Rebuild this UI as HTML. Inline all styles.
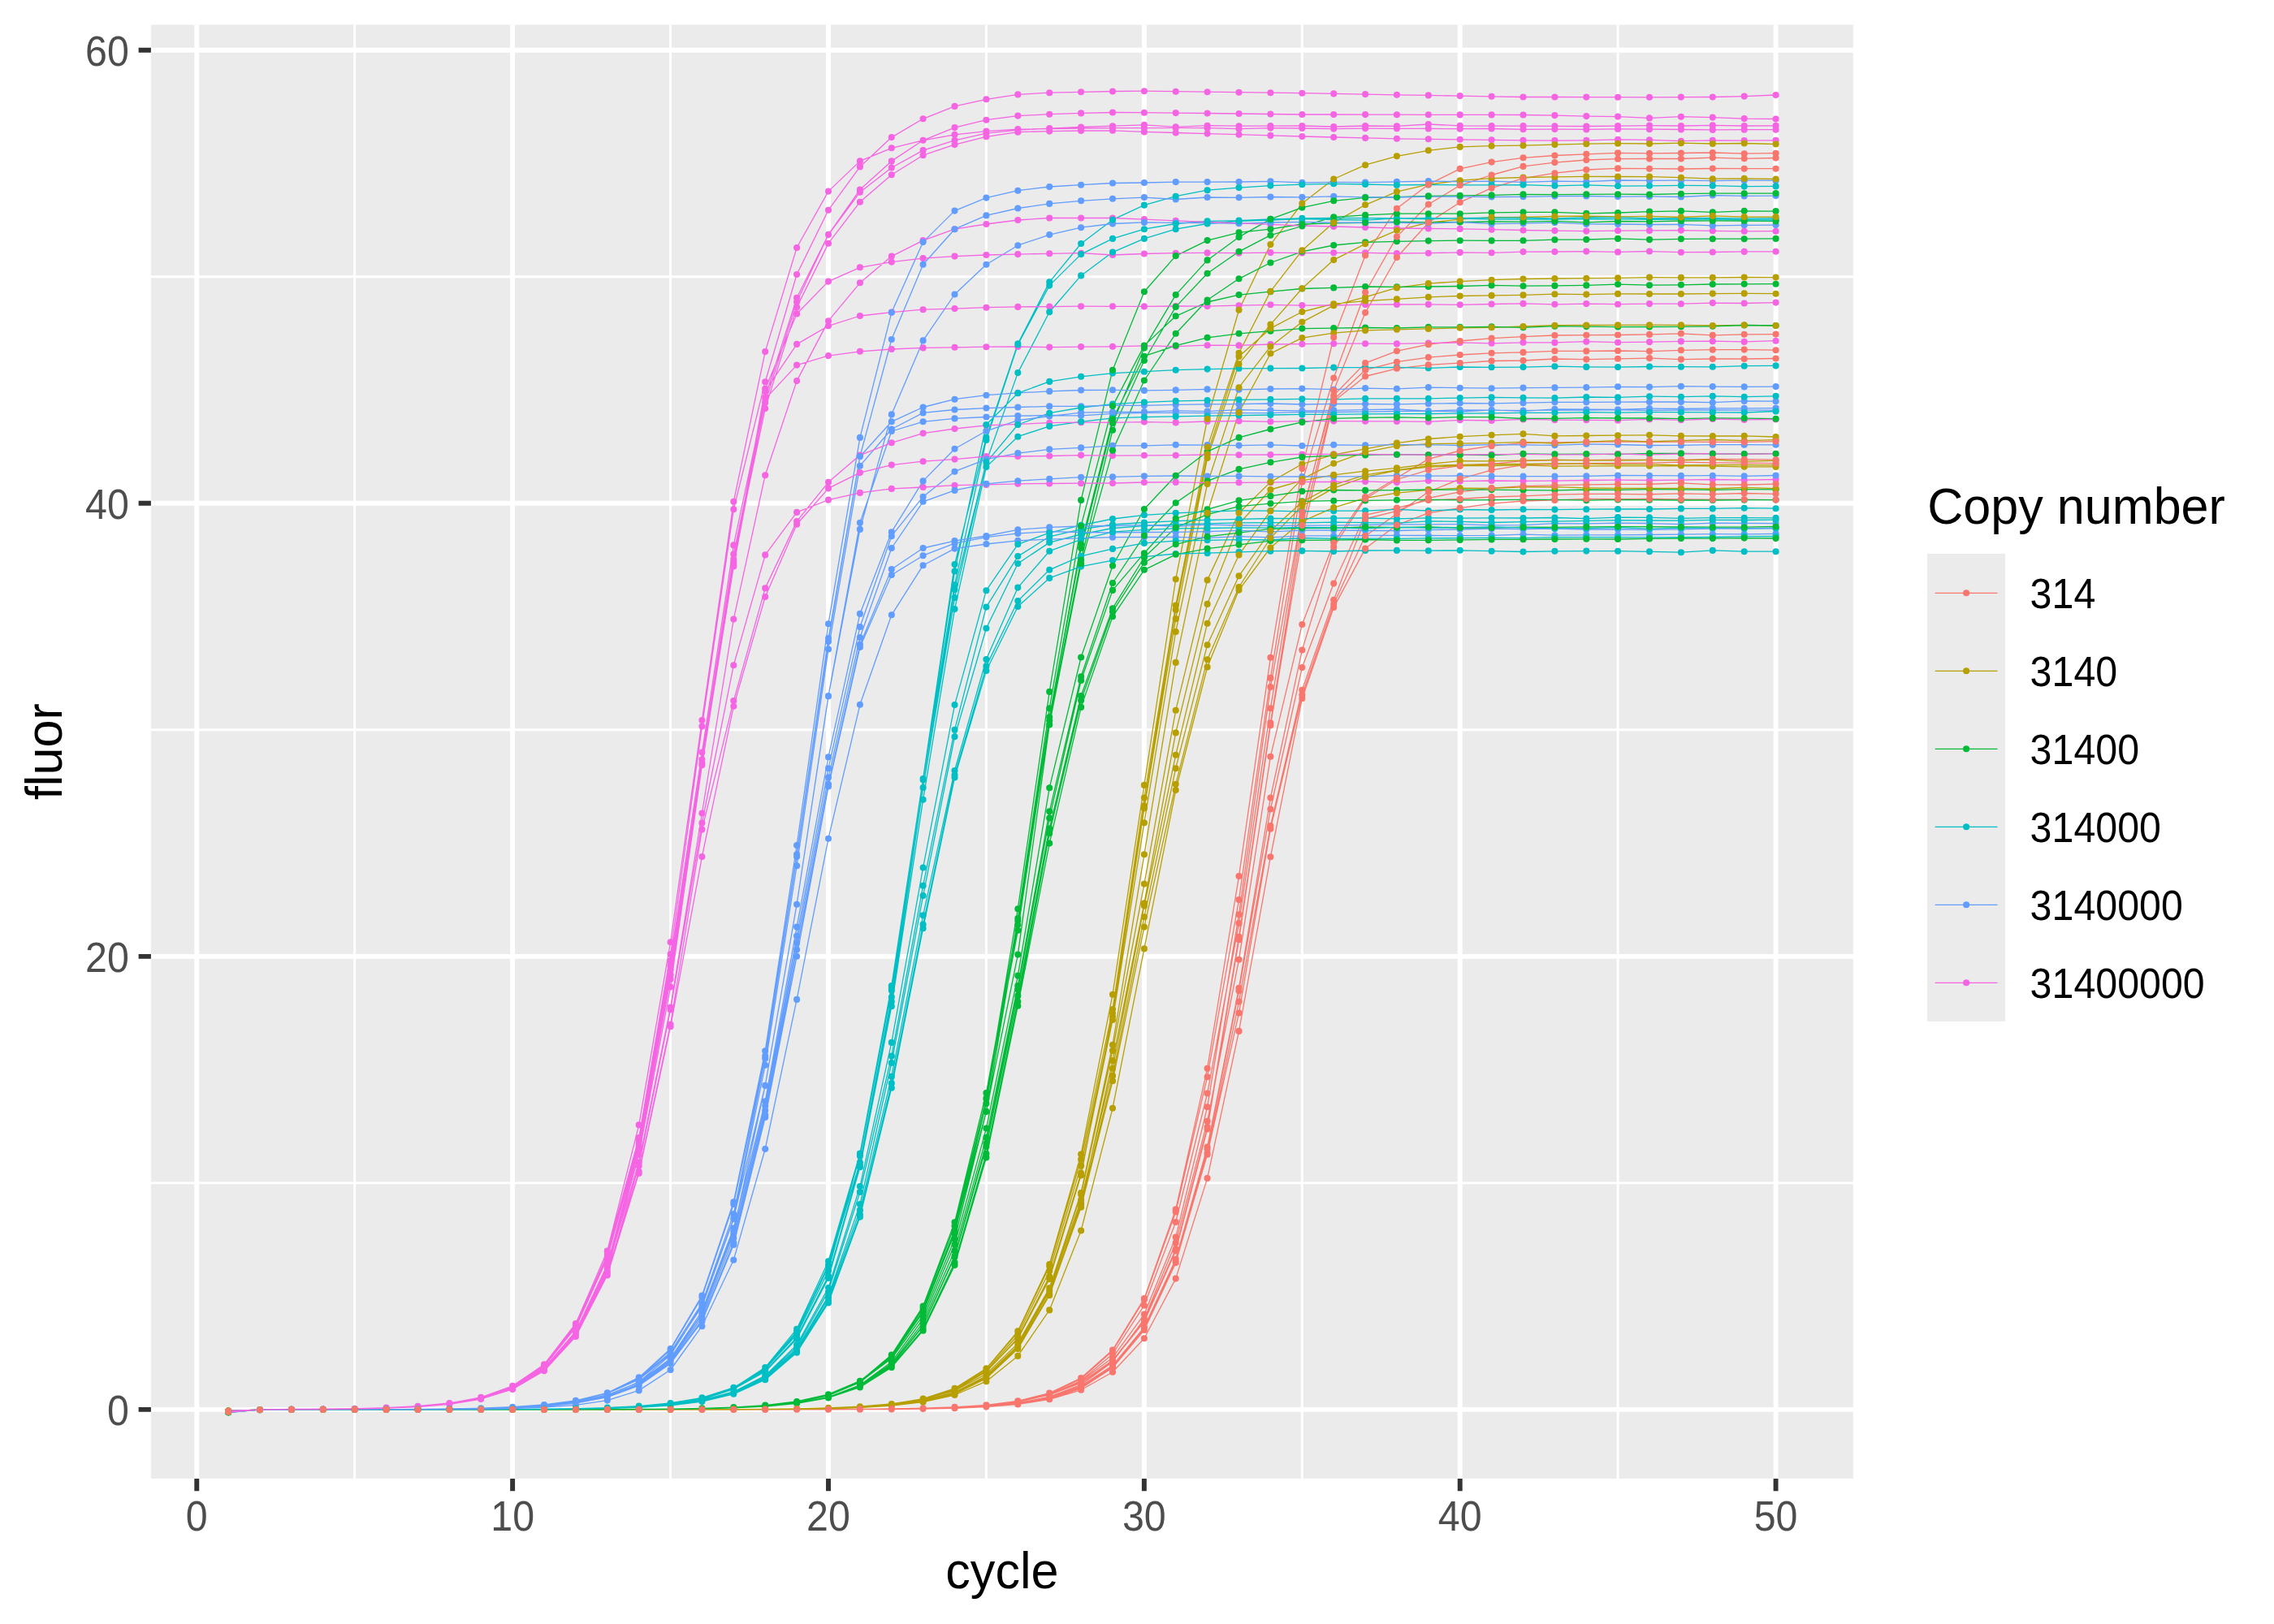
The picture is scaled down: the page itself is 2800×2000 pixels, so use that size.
<!DOCTYPE html><html><head><meta charset="utf-8"><title>qPCR</title><style>html,body{margin:0;padding:0;background:#fff}svg{display:block}text{font-family:"Liberation Sans",sans-serif}</style></head><body>
<svg width="2800" height="2000" viewBox="0 0 2800 2000">
<rect width="2800" height="2000" fill="#fff"/>
<rect x="185.9" y="30.5" width="2095.95" height="1790.40" fill="#EBEBEB"/>
<path d="M436.70 30.5V1820.9M825.56 30.5V1820.9M1214.42 30.5V1820.9M1603.28 30.5V1820.9M1992.14 30.5V1820.9M185.9 1456.87H2281.85M185.9 898.81H2281.85M185.9 340.75H2281.85" stroke="#fff" stroke-width="2.96" fill="none"/>
<path d="M242.27 30.5V1820.9M631.13 30.5V1820.9M1019.99 30.5V1820.9M1408.85 30.5V1820.9M1797.71 30.5V1820.9M2186.57 30.5V1820.9M185.9 1735.90H2281.85M185.9 1177.84H2281.85M185.9 619.78H2281.85M185.9 61.72H2281.85" stroke="#fff" stroke-width="5.93" fill="none"/>
<clipPath id="cp"><rect x="185.9" y="30.5" width="2095.95" height="1790.40"/></clipPath>
<g clip-path="url(#cp)">
<path d="M281.2 1737.8L320.0 1736.2L358.9 1735.9L397.8 1735.9L436.7 1735.9L475.6 1735.9L514.5 1735.9L553.4 1735.9L592.2 1735.9L631.1 1735.9L670.0 1735.9L708.9 1735.9L747.8 1735.9L786.7 1735.9L825.6 1735.9L864.4 1735.9L903.3 1735.9L942.2 1735.8L981.1 1735.8L1020.0 1735.7L1058.9 1735.5L1097.8 1735.1L1136.6 1734.4L1175.5 1733.1L1214.4 1730.4L1253.3 1725.4L1292.2 1715.6L1331.1 1697.1L1370.0 1662.5L1408.9 1599.1L1447.7 1489.4L1486.6 1315.8L1525.5 1079.1L1564.4 809.8L1603.3 577.1L1642.2 415.5L1681.1 314.5L1719.9 256.8L1758.8 227.2L1797.7 207.9L1836.6 199.6L1875.5 194.3L1914.4 191.5L1953.3 189.8L1992.1 188.4L2031.0 188.9L2069.9 188.5L2108.8 188.0L2147.7 189.2L2186.6 188.7M281.2 1738.0L320.0 1736.2L358.9 1735.9L397.8 1735.9L436.7 1735.9L475.6 1735.9L514.5 1735.9L553.4 1735.9L592.2 1735.9L631.1 1735.9L670.0 1735.9L708.9 1735.9L747.8 1735.9L786.7 1735.9L825.6 1735.9L864.4 1735.9L903.3 1735.9L942.2 1735.8L981.1 1735.8L1020.0 1735.7L1058.9 1735.6L1097.8 1735.2L1136.6 1734.6L1175.5 1733.3L1214.4 1730.8L1253.3 1726.0L1292.2 1716.5L1331.1 1698.2L1370.0 1663.6L1408.9 1600.5L1447.7 1492.5L1486.6 1326.2L1525.5 1108.1L1564.4 834.9L1603.3 593.6L1642.2 465.5L1681.1 360.0L1719.9 291.6L1758.8 251.7L1797.7 228.3L1836.6 215.5L1875.5 204.9L1914.4 200.1L1953.3 197.0L1992.1 195.7L2031.0 195.5L2069.9 195.5L2108.8 194.1L2147.7 195.3L2186.6 194.5M281.2 1738.6L320.0 1736.2L358.9 1735.9L397.8 1735.9L436.7 1735.9L475.6 1735.9L514.5 1735.9L553.4 1735.9L592.2 1735.9L631.1 1735.9L670.0 1735.9L708.9 1735.9L747.8 1735.9L786.7 1735.9L825.6 1735.9L864.4 1735.9L903.3 1735.9L942.2 1735.9L981.1 1735.8L1020.0 1735.7L1058.9 1735.6L1097.8 1735.3L1136.6 1734.7L1175.5 1733.5L1214.4 1731.2L1253.3 1726.6L1292.2 1717.6L1331.1 1700.3L1370.0 1667.5L1408.9 1607.7L1447.7 1505.0L1486.6 1346.5L1525.5 1137.1L1564.4 872.3L1603.3 635.4L1642.2 480.8L1681.1 385.1L1719.9 317.0L1758.8 274.3L1797.7 249.2L1836.6 231.6L1875.5 219.7L1914.4 213.2L1953.3 209.0L1992.1 207.4L2031.0 207.7L2069.9 208.0L2108.8 207.5L2147.7 207.7L2186.6 207.7M281.2 1737.8L320.0 1736.2L358.9 1735.9L397.8 1735.9L436.7 1735.9L475.6 1735.9L514.5 1735.9L553.4 1735.9L592.2 1735.9L631.1 1735.9L670.0 1735.9L708.9 1735.9L747.8 1735.9L786.7 1735.9L825.6 1735.9L864.4 1735.9L903.3 1735.9L942.2 1735.8L981.1 1735.8L1020.0 1735.6L1058.9 1735.4L1097.8 1735.0L1136.6 1734.3L1175.5 1732.9L1214.4 1730.3L1253.3 1725.7L1292.2 1717.0L1331.1 1701.1L1370.0 1671.9L1408.9 1618.6L1447.7 1523.6L1486.6 1363.3L1525.5 1126.2L1564.4 846.1L1603.3 630.9L1642.2 487.0L1681.1 447.1L1719.9 432.3L1758.8 424.2L1797.7 420.0L1836.6 416.6L1875.5 414.7L1914.4 413.0L1953.3 412.7L1992.1 412.5L2031.0 411.9L2069.9 410.8L2108.8 412.9L2147.7 411.8L2186.6 411.6M281.2 1738.4L320.0 1736.2L358.9 1735.9L397.8 1735.9L436.7 1735.9L475.6 1735.9L514.5 1735.9L553.4 1735.9L592.2 1735.9L631.1 1735.9L670.0 1735.9L708.9 1735.9L747.8 1735.9L786.7 1735.9L825.6 1735.9L864.4 1735.9L903.3 1735.8L942.2 1735.8L981.1 1735.7L1020.0 1735.6L1058.9 1735.4L1097.8 1735.0L1136.6 1734.2L1175.5 1732.9L1214.4 1730.3L1253.3 1725.8L1292.2 1717.5L1331.1 1702.6L1370.0 1675.3L1408.9 1626.1L1447.7 1538.4L1486.6 1387.7L1525.5 1153.8L1564.4 890.4L1603.3 647.1L1642.2 492.0L1681.1 455.7L1719.9 445.7L1758.8 440.1L1797.7 437.0L1836.6 434.8L1875.5 433.9L1914.4 432.3L1953.3 432.4L1992.1 432.0L2031.0 432.6L2069.9 431.3L2108.8 430.7L2147.7 430.6L2186.6 431.2M281.2 1738.3L320.0 1736.2L358.9 1735.9L397.8 1735.9L436.7 1735.9L475.6 1735.9L514.5 1735.9L553.4 1735.9L592.2 1735.9L631.1 1735.9L670.0 1735.9L708.9 1735.9L747.8 1735.9L786.7 1735.9L825.6 1735.9L864.4 1735.9L903.3 1735.8L942.2 1735.8L981.1 1735.8L1020.0 1735.6L1058.9 1735.4L1097.8 1735.0L1136.6 1734.3L1175.5 1732.9L1214.4 1730.5L1253.3 1726.0L1292.2 1717.9L1331.1 1703.1L1370.0 1676.2L1408.9 1627.5L1447.7 1540.4L1486.6 1390.4L1525.5 1157.2L1564.4 893.2L1603.3 660.5L1642.2 494.2L1681.1 463.5L1719.9 453.8L1758.8 449.3L1797.7 447.1L1836.6 444.5L1875.5 444.0L1914.4 442.0L1953.3 442.6L1992.1 441.8L2031.0 441.1L2069.9 442.6L2108.8 442.0L2147.7 442.0L2186.6 441.5M281.2 1738.1L320.0 1736.2L358.9 1735.9L397.8 1735.9L436.7 1735.9L475.6 1735.9L514.5 1735.9L553.4 1735.9L592.2 1735.9L631.1 1735.9L670.0 1735.9L708.9 1735.9L747.8 1735.9L786.7 1735.9L825.6 1735.9L864.4 1735.9L903.3 1735.9L942.2 1735.9L981.1 1735.8L1020.0 1735.8L1058.9 1735.6L1097.8 1735.3L1136.6 1734.8L1175.5 1733.8L1214.4 1731.8L1253.3 1727.9L1292.2 1720.2L1331.1 1705.4L1370.0 1677.1L1408.9 1624.3L1447.7 1530.6L1486.6 1380.9L1525.5 1181.7L1564.4 931.7L1603.3 769.1L1642.2 668.6L1681.1 612.0L1719.9 588.5L1758.8 565.4L1797.7 555.0L1836.6 549.2L1875.5 545.6L1914.4 545.0L1953.3 544.4L1992.1 543.9L2031.0 544.4L2069.9 544.2L2108.8 544.4L2147.7 544.4L2186.6 543.6M281.2 1738.0L320.0 1736.2L358.9 1735.9L397.8 1735.9L436.7 1735.9L475.6 1735.9L514.5 1735.9L553.4 1735.9L592.2 1735.9L631.1 1735.9L670.0 1735.9L708.9 1735.9L747.8 1735.9L786.7 1735.9L825.6 1735.9L864.4 1735.9L903.3 1735.9L942.2 1735.8L981.1 1735.8L1020.0 1735.7L1058.9 1735.6L1097.8 1735.3L1136.6 1734.7L1175.5 1733.7L1214.4 1731.7L1253.3 1727.9L1292.2 1720.7L1331.1 1707.1L1370.0 1681.6L1408.9 1634.6L1447.7 1550.8L1486.6 1412.6L1525.5 1216.9L1564.4 982.5L1603.3 800.6L1642.2 673.6L1681.1 614.2L1719.9 590.5L1758.8 578.8L1797.7 573.7L1836.6 571.5L1875.5 567.6L1914.4 566.5L1953.3 566.7L1992.1 566.2L2031.0 566.3L2069.9 566.4L2108.8 565.4L2147.7 565.7L2186.6 566.2M281.2 1737.7L320.0 1736.2L358.9 1735.9L397.8 1735.9L436.7 1735.9L475.6 1735.9L514.5 1735.9L553.4 1735.9L592.2 1735.9L631.1 1735.9L670.0 1735.9L708.9 1735.9L747.8 1735.9L786.7 1735.9L825.6 1735.9L864.4 1735.9L903.3 1735.9L942.2 1735.9L981.1 1735.8L1020.0 1735.8L1058.9 1735.7L1097.8 1735.5L1136.6 1735.1L1175.5 1734.3L1214.4 1732.6L1253.3 1729.3L1292.2 1722.8L1331.1 1709.8L1370.0 1684.5L1408.9 1637.0L1447.7 1553.4L1486.6 1421.7L1525.5 1247.6L1564.4 1020.7L1603.3 855.8L1642.2 743.9L1681.1 660.0L1719.9 632.9L1758.8 605.8L1797.7 589.9L1836.6 578.8L1875.5 572.6L1914.4 571.5L1953.3 570.7L1992.1 570.3L2031.0 570.1L2069.9 569.2L2108.8 569.9L2147.7 570.1L2186.6 570.7M281.2 1737.9L320.0 1736.2L358.9 1735.9L397.8 1735.9L436.7 1735.9L475.6 1735.9L514.5 1735.9L553.4 1735.9L592.2 1735.9L631.1 1735.9L670.0 1735.9L708.9 1735.9L747.8 1735.9L786.7 1735.9L825.6 1735.9L864.4 1735.9L903.3 1735.9L942.2 1735.9L981.1 1735.8L1020.0 1735.8L1058.9 1735.6L1097.8 1735.4L1136.6 1735.0L1175.5 1734.1L1214.4 1732.3L1253.3 1728.9L1292.2 1722.2L1331.1 1709.3L1370.0 1684.4L1408.9 1638.0L1447.7 1555.1L1486.6 1420.3L1525.5 1233.6L1564.4 1017.1L1603.3 849.7L1642.2 738.9L1681.1 639.0L1719.9 629.3L1758.8 613.4L1797.7 605.8L1836.6 601.1L1875.5 598.6L1914.4 597.7L1953.3 596.9L1992.1 596.3L2031.0 596.3L2069.9 594.9L2108.8 596.8L2147.7 597.0L2186.6 596.1M281.2 1738.2L320.0 1736.2L358.9 1735.9L397.8 1735.9L436.7 1735.9L475.6 1735.9L514.5 1735.9L553.4 1735.9L592.2 1735.9L631.1 1735.9L670.0 1735.9L708.9 1735.9L747.8 1735.9L786.7 1735.9L825.6 1735.9L864.4 1735.9L903.3 1735.9L942.2 1735.9L981.1 1735.8L1020.0 1735.8L1058.9 1735.6L1097.8 1735.3L1136.6 1734.8L1175.5 1733.8L1214.4 1732.0L1253.3 1728.3L1292.2 1721.4L1331.1 1708.2L1370.0 1683.2L1408.9 1636.7L1447.7 1553.2L1486.6 1415.1L1525.5 1220.3L1564.4 996.5L1603.3 822.1L1642.2 718.6L1681.1 634.3L1719.9 625.6L1758.8 615.9L1797.7 614.5L1836.6 612.0L1875.5 610.9L1914.4 609.2L1953.3 608.3L1992.1 608.3L2031.0 608.8L2069.9 607.8L2108.8 608.6L2147.7 607.5L2186.6 608.3M281.2 1738.2L320.0 1736.2L358.9 1735.9L397.8 1735.9L436.7 1735.9L475.6 1735.9L514.5 1735.9L553.4 1735.9L592.2 1735.9L631.1 1735.9L670.0 1735.9L708.9 1735.9L747.8 1735.9L786.7 1735.9L825.6 1735.9L864.4 1735.9L903.3 1735.9L942.2 1735.9L981.1 1735.8L1020.0 1735.8L1058.9 1735.6L1097.8 1735.4L1136.6 1735.0L1175.5 1734.1L1214.4 1732.5L1253.3 1729.4L1292.2 1723.3L1331.1 1711.8L1370.0 1689.7L1408.9 1648.3L1447.7 1574.6L1486.6 1451.1L1525.5 1269.9L1564.4 1055.3L1603.3 860.3L1642.2 748.1L1681.1 675.6L1719.9 646.6L1758.8 631.8L1797.7 625.6L1836.6 620.1L1875.5 617.0L1914.4 615.9L1953.3 614.5L1992.1 614.6L2031.0 614.5L2069.9 615.0L2108.8 615.2L2147.7 615.1L2186.6 615.6" stroke="#F8766D" stroke-width="1.3" fill="none" stroke-linejoin="round"/>
<path d="M281.2 1739.0L320.0 1736.2L358.9 1735.9L397.8 1735.9L436.7 1735.9L475.6 1735.9L514.5 1735.9L553.4 1735.9L592.2 1735.9L631.1 1735.9L670.0 1735.9L708.9 1735.9L747.8 1735.9L786.7 1735.9L825.6 1735.8L864.4 1735.8L903.3 1735.7L942.2 1735.5L981.1 1735.0L1020.0 1734.2L1058.9 1732.5L1097.8 1729.1L1136.6 1722.6L1175.5 1709.8L1214.4 1685.3L1253.3 1639.3L1292.2 1557.1L1331.1 1421.5L1370.0 1224.7L1408.9 966.9L1447.7 713.3L1486.6 516.0L1525.5 381.8L1564.4 301.1L1603.3 250.6L1642.2 220.5L1681.1 203.2L1719.9 192.3L1758.8 185.3L1797.7 180.9L1836.6 179.7L1875.5 179.2L1914.4 178.1L1953.3 177.2L1992.1 176.7L2031.0 177.0L2069.9 176.2L2108.8 177.0L2147.7 176.5L2186.6 177.5M281.2 1738.7L320.0 1736.2L358.9 1735.9L397.8 1735.9L436.7 1735.9L475.6 1735.9L514.5 1735.9L553.4 1735.9L592.2 1735.9L631.1 1735.9L670.0 1735.9L708.9 1735.9L747.8 1735.9L786.7 1735.9L825.6 1735.8L864.4 1735.8L903.3 1735.7L942.2 1735.5L981.1 1735.1L1020.0 1734.3L1058.9 1732.7L1097.8 1729.5L1136.6 1723.1L1175.5 1710.6L1214.4 1686.2L1253.3 1640.5L1292.2 1559.4L1331.1 1427.8L1370.0 1243.1L1408.9 982.5L1447.7 745.6L1486.6 550.6L1525.5 434.8L1564.4 358.9L1603.3 308.4L1642.2 274.1L1681.1 252.3L1719.9 236.1L1758.8 227.2L1797.7 222.2L1836.6 219.7L1875.5 218.5L1914.4 217.9L1953.3 217.4L1992.1 217.5L2031.0 217.6L2069.9 218.7L2108.8 220.2L2147.7 219.9L2186.6 220.5M281.2 1738.0L320.0 1736.2L358.9 1735.9L397.8 1735.9L436.7 1735.9L475.6 1735.9L514.5 1735.9L553.4 1735.9L592.2 1735.9L631.1 1735.9L670.0 1735.9L708.9 1735.9L747.8 1735.9L786.7 1735.9L825.6 1735.8L864.4 1735.8L903.3 1735.7L942.2 1735.5L981.1 1735.1L1020.0 1734.3L1058.9 1732.8L1097.8 1729.7L1136.6 1723.5L1175.5 1711.5L1214.4 1688.1L1253.3 1644.0L1292.2 1565.2L1331.1 1435.8L1370.0 1251.8L1408.9 995.4L1447.7 762.1L1486.6 564.0L1525.5 448.2L1564.4 399.6L1603.3 355.3L1642.2 320.1L1681.1 300.3L1719.9 283.8L1758.8 274.1L1797.7 270.2L1836.6 267.6L1875.5 267.4L1914.4 266.5L1953.3 266.2L1992.1 266.8L2031.0 266.3L2069.9 267.5L2108.8 265.9L2147.7 267.1L2186.6 267.1M281.2 1738.6L320.0 1736.2L358.9 1735.9L397.8 1735.9L436.7 1735.9L475.6 1735.9L514.5 1735.9L553.4 1735.9L592.2 1735.9L631.1 1735.9L670.0 1735.9L708.9 1735.9L747.8 1735.9L786.7 1735.9L825.6 1735.8L864.4 1735.8L903.3 1735.7L942.2 1735.5L981.1 1735.0L1020.0 1734.2L1058.9 1732.6L1097.8 1729.5L1136.6 1723.5L1175.5 1711.8L1214.4 1689.5L1253.3 1647.6L1292.2 1572.0L1331.1 1444.7L1370.0 1256.0L1408.9 1013.2L1447.7 778.0L1486.6 596.1L1525.5 477.2L1564.4 426.7L1603.3 396.6L1642.2 376.2L1681.1 365.9L1719.9 354.4L1758.8 349.1L1797.7 346.6L1836.6 344.7L1875.5 343.5L1914.4 343.0L1953.3 342.7L1992.1 342.4L2031.0 341.6L2069.9 341.9L2108.8 341.9L2147.7 341.5L2186.6 341.6M281.2 1738.3L320.0 1736.2L358.9 1735.9L397.8 1735.9L436.7 1735.9L475.6 1735.9L514.5 1735.9L553.4 1735.9L592.2 1735.9L631.1 1735.9L670.0 1735.9L708.9 1735.9L747.8 1735.9L786.7 1735.8L825.6 1735.8L864.4 1735.8L903.3 1735.6L942.2 1735.3L981.1 1734.9L1020.0 1733.9L1058.9 1732.2L1097.8 1729.0L1136.6 1722.8L1175.5 1711.2L1214.4 1689.3L1253.3 1648.8L1292.2 1575.1L1331.1 1447.4L1370.0 1247.6L1408.9 992.3L1447.7 750.9L1486.6 559.2L1525.5 439.0L1564.4 404.4L1603.3 384.0L1642.2 374.2L1681.1 370.6L1719.9 368.4L1758.8 365.9L1797.7 364.5L1836.6 363.9L1875.5 363.4L1914.4 362.2L1953.3 362.6L1992.1 361.9L2031.0 362.0L2069.9 362.0L2108.8 361.6L2147.7 361.4L2186.6 361.7M281.2 1739.1L320.0 1736.2L358.9 1735.9L397.8 1735.9L436.7 1735.9L475.6 1735.9L514.5 1735.9L553.4 1735.9L592.2 1735.9L631.1 1735.9L670.0 1735.9L708.9 1735.9L747.8 1735.9L786.7 1735.9L825.6 1735.8L864.4 1735.8L903.3 1735.6L942.2 1735.4L981.1 1734.9L1020.0 1734.1L1058.9 1732.4L1097.8 1729.3L1136.6 1723.5L1175.5 1712.6L1214.4 1692.2L1253.3 1654.4L1292.2 1586.2L1331.1 1469.0L1370.0 1286.7L1408.9 1052.3L1447.7 815.9L1486.6 631.8L1525.5 507.9L1564.4 435.3L1603.3 416.1L1642.2 410.2L1681.1 406.9L1719.9 405.8L1758.8 404.9L1797.7 403.8L1836.6 403.3L1875.5 402.0L1914.4 400.7L1953.3 400.5L1992.1 400.4L2031.0 400.2L2069.9 400.3L2108.8 401.0L2147.7 400.3L2186.6 401.0M281.2 1738.7L320.0 1736.2L358.9 1735.9L397.8 1735.9L436.7 1735.9L475.6 1735.9L514.5 1735.9L553.4 1735.9L592.2 1735.9L631.1 1735.9L670.0 1735.9L708.9 1735.9L747.8 1735.9L786.7 1735.9L825.6 1735.8L864.4 1735.8L903.3 1735.7L942.2 1735.5L981.1 1735.1L1020.0 1734.4L1058.9 1733.0L1097.8 1730.2L1136.6 1724.9L1175.5 1714.5L1214.4 1694.5L1253.3 1656.9L1292.2 1588.2L1331.1 1471.0L1370.0 1293.9L1408.9 1088.6L1447.7 874.8L1486.6 714.4L1525.5 631.8L1564.4 593.6L1603.3 571.5L1642.2 559.8L1681.1 552.8L1719.9 545.6L1758.8 540.5L1797.7 537.7L1836.6 535.8L1875.5 534.4L1914.4 536.9L1953.3 536.5L1992.1 536.2L2031.0 535.8L2069.9 536.9L2108.8 537.0L2147.7 536.8L2186.6 538.0M281.2 1737.4L320.0 1736.2L358.9 1735.9L397.8 1735.9L436.7 1735.9L475.6 1735.9L514.5 1735.9L553.4 1735.9L592.2 1735.9L631.1 1735.9L670.0 1735.9L708.9 1735.9L747.8 1735.9L786.7 1735.9L825.6 1735.9L864.4 1735.8L903.3 1735.7L942.2 1735.6L981.1 1735.3L1020.0 1734.6L1058.9 1733.3L1097.8 1730.8L1136.6 1725.6L1175.5 1715.4L1214.4 1695.6L1253.3 1658.0L1292.2 1590.1L1331.1 1477.8L1370.0 1315.7L1408.9 1115.6L1447.7 929.8L1486.6 767.7L1525.5 683.4L1564.4 629.3L1603.3 589.9L1642.2 570.7L1681.1 556.7L1719.9 549.2L1758.8 546.7L1797.7 546.1L1836.6 545.6L1875.5 544.4L1914.4 546.0L1953.3 544.1L1992.1 542.7L2031.0 543.8L2069.9 542.7L2108.8 541.5L2147.7 542.7L2186.6 541.7M281.2 1738.1L320.0 1736.2L358.9 1735.9L397.8 1735.9L436.7 1735.9L475.6 1735.9L514.5 1735.9L553.4 1735.9L592.2 1735.9L631.1 1735.9L670.0 1735.9L708.9 1735.9L747.8 1735.9L786.7 1735.9L825.6 1735.8L864.4 1735.8L903.3 1735.7L942.2 1735.5L981.1 1735.1L1020.0 1734.3L1058.9 1732.9L1097.8 1730.2L1136.6 1725.0L1175.5 1714.9L1214.4 1695.9L1253.3 1660.2L1292.2 1594.9L1331.1 1481.9L1370.0 1306.2L1408.9 1112.3L1447.7 902.4L1486.6 743.9L1525.5 645.2L1564.4 603.0L1603.3 591.9L1642.2 584.9L1681.1 580.2L1719.9 576.3L1758.8 571.5L1797.7 567.6L1836.6 567.9L1875.5 567.2L1914.4 566.3L1953.3 566.8L1992.1 567.1L2031.0 566.5L2069.9 566.9L2108.8 566.2L2147.7 568.1L2186.6 567.3M281.2 1738.9L320.0 1736.2L358.9 1735.9L397.8 1735.9L436.7 1735.9L475.6 1735.9L514.5 1735.9L553.4 1735.9L592.2 1735.9L631.1 1735.9L670.0 1735.9L708.9 1735.9L747.8 1735.9L786.7 1735.9L825.6 1735.9L864.4 1735.8L903.3 1735.8L942.2 1735.6L981.1 1735.3L1020.0 1734.7L1058.9 1733.5L1097.8 1731.0L1136.6 1726.1L1175.5 1716.2L1214.4 1696.9L1253.3 1660.1L1292.2 1593.6L1331.1 1483.5L1370.0 1324.9L1408.9 1129.3L1447.7 946.2L1486.6 794.2L1525.5 709.3L1564.4 653.8L1603.3 618.1L1642.2 597.2L1681.1 584.9L1719.9 578.8L1758.8 573.7L1797.7 572.3L1836.6 571.7L1875.5 571.5L1914.4 570.9L1953.3 571.1L1992.1 571.9L2031.0 571.9L2069.9 573.0L2108.8 572.7L2147.7 572.5L2186.6 572.9M281.2 1738.5L320.0 1736.2L358.9 1735.9L397.8 1735.9L436.7 1735.9L475.6 1735.9L514.5 1735.9L553.4 1735.9L592.2 1735.9L631.1 1735.9L670.0 1735.9L708.9 1735.9L747.8 1735.9L786.7 1735.9L825.6 1735.9L864.4 1735.8L903.3 1735.8L942.2 1735.6L981.1 1735.3L1020.0 1734.8L1058.9 1733.6L1097.8 1731.2L1136.6 1726.4L1175.5 1716.7L1214.4 1697.6L1253.3 1661.1L1292.2 1595.2L1331.1 1486.8L1370.0 1331.3L1408.9 1141.6L1447.7 965.8L1486.6 812.3L1525.5 723.0L1564.4 662.5L1603.3 623.1L1642.2 601.1L1681.1 587.4L1719.9 579.3L1758.8 575.1L1797.7 573.7L1836.6 573.5L1875.5 572.9L1914.4 574.2L1953.3 573.9L1992.1 573.8L2031.0 573.8L2069.9 573.5L2108.8 574.2L2147.7 574.8L2186.6 574.9M281.2 1737.9L320.0 1736.2L358.9 1735.9L397.8 1735.9L436.7 1735.9L475.6 1735.9L514.5 1735.9L553.4 1735.9L592.2 1735.9L631.1 1735.9L670.0 1735.9L708.9 1735.9L747.8 1735.9L786.7 1735.9L825.6 1735.8L864.4 1735.8L903.3 1735.7L942.2 1735.6L981.1 1735.3L1020.0 1734.7L1058.9 1733.5L1097.8 1731.2L1136.6 1726.7L1175.5 1718.0L1214.4 1701.2L1253.3 1669.9L1292.2 1613.4L1331.1 1515.5L1370.0 1364.8L1408.9 1168.4L1447.7 973.0L1486.6 821.5L1525.5 726.6L1564.4 674.5L1603.3 642.1L1642.2 625.1L1681.1 613.4L1719.9 607.2L1758.8 603.3L1797.7 601.1L1836.6 601.4L1875.5 599.8L1914.4 599.7L1953.3 600.9L1992.1 601.5L2031.0 601.4L2069.9 601.3L2108.8 602.0L2147.7 600.3L2186.6 601.6" stroke="#B79F00" stroke-width="1.3" fill="none" stroke-linejoin="round"/>
<path d="M281.2 1739.1L320.0 1736.2L358.9 1735.9L397.8 1735.9L436.7 1735.9L475.6 1735.9L514.5 1735.9L553.4 1735.9L592.2 1735.9L631.1 1735.9L670.0 1735.9L708.9 1735.8L747.8 1735.8L786.7 1735.6L825.6 1735.4L864.4 1734.8L903.3 1733.7L942.2 1731.5L981.1 1727.1L1020.0 1718.4L1058.9 1701.3L1097.8 1668.6L1136.6 1608.5L1175.5 1505.3L1214.4 1346.0L1253.3 1134.0L1292.2 883.2L1331.1 675.0L1370.0 521.0L1408.9 428.6L1447.7 363.1L1486.6 320.4L1525.5 291.9L1564.4 269.9L1603.3 255.6L1642.2 247.3L1681.1 243.4L1719.9 242.7L1758.8 241.4L1797.7 240.9L1836.6 240.4L1875.5 239.4L1914.4 239.6L1953.3 239.3L1992.1 239.2L2031.0 239.5L2069.9 238.7L2108.8 238.1L2147.7 238.2L2186.6 238.1M281.2 1738.4L320.0 1736.2L358.9 1735.9L397.8 1735.9L436.7 1735.9L475.6 1735.9L514.5 1735.9L553.4 1735.9L592.2 1735.9L631.1 1735.9L670.0 1735.9L708.9 1735.8L747.8 1735.8L786.7 1735.6L825.6 1735.3L864.4 1734.8L903.3 1733.7L942.2 1731.5L981.1 1727.2L1020.0 1718.6L1058.9 1701.8L1097.8 1669.7L1136.6 1610.9L1175.5 1509.7L1214.4 1353.3L1253.3 1145.8L1292.2 887.6L1331.1 689.5L1370.0 529.7L1408.9 444.0L1447.7 377.9L1486.6 336.8L1525.5 309.8L1564.4 289.7L1603.3 278.5L1642.2 267.4L1681.1 264.9L1719.9 263.2L1758.8 263.2L1797.7 263.2L1836.6 261.8L1875.5 261.3L1914.4 261.3L1953.3 262.8L1992.1 262.0L2031.0 260.6L2069.9 259.9L2108.8 261.4L2147.7 259.8L2186.6 260.1M281.2 1738.7L320.0 1736.2L358.9 1735.9L397.8 1735.9L436.7 1735.9L475.6 1735.9L514.5 1735.9L553.4 1735.9L592.2 1735.9L631.1 1735.9L670.0 1735.8L708.9 1735.8L747.8 1735.7L786.7 1735.5L825.6 1735.1L864.4 1734.4L903.3 1733.1L942.2 1730.6L981.1 1726.0L1020.0 1717.2L1058.9 1700.7L1097.8 1670.1L1136.6 1614.0L1175.5 1515.1L1214.4 1352.6L1253.3 1119.2L1292.2 851.9L1331.1 615.9L1370.0 455.7L1408.9 359.2L1447.7 315.1L1486.6 296.1L1525.5 286.3L1564.4 282.2L1603.3 276.0L1642.2 274.9L1681.1 274.3L1719.9 273.2L1758.8 273.8L1797.7 273.5L1836.6 273.0L1875.5 273.1L1914.4 272.4L1953.3 273.8L1992.1 272.5L2031.0 272.8L2069.9 272.0L2108.8 271.9L2147.7 272.0L2186.6 272.4M281.2 1739.2L320.0 1736.2L358.9 1735.9L397.8 1735.9L436.7 1735.9L475.6 1735.9L514.5 1735.9L553.4 1735.9L592.2 1735.9L631.1 1735.9L670.0 1735.9L708.9 1735.8L747.8 1735.8L786.7 1735.6L825.6 1735.3L864.4 1734.8L903.3 1733.7L942.2 1731.5L981.1 1727.2L1020.0 1718.7L1058.9 1702.4L1097.8 1671.4L1136.6 1614.8L1175.5 1517.7L1214.4 1368.7L1253.3 1175.6L1292.2 892.4L1331.1 694.3L1370.0 554.8L1408.9 468.5L1447.7 410.8L1486.6 369.5L1525.5 343.3L1564.4 323.5L1603.3 309.8L1642.2 302.0L1681.1 298.3L1719.9 297.3L1758.8 296.6L1797.7 296.2L1836.6 296.4L1875.5 296.3L1914.4 295.2L1953.3 295.0L1992.1 293.9L2031.0 295.1L2069.9 294.3L2108.8 294.2L2147.7 294.2L2186.6 293.9M281.2 1738.7L320.0 1736.2L358.9 1735.9L397.8 1735.9L436.7 1735.9L475.6 1735.9L514.5 1735.9L553.4 1735.9L592.2 1735.9L631.1 1735.9L670.0 1735.8L708.9 1735.8L747.8 1735.7L786.7 1735.5L825.6 1735.1L864.4 1734.4L903.3 1733.1L942.2 1730.7L981.1 1726.0L1020.0 1717.4L1058.9 1701.2L1097.8 1671.1L1136.6 1616.0L1175.5 1518.8L1214.4 1359.1L1253.3 1131.0L1292.2 872.3L1331.1 647.7L1370.0 500.1L1408.9 425.6L1447.7 389.3L1486.6 372.0L1525.5 363.1L1564.4 359.2L1603.3 355.5L1642.2 354.4L1681.1 353.0L1719.9 353.3L1758.8 353.0L1797.7 352.5L1836.6 351.4L1875.5 352.2L1914.4 351.9L1953.3 351.4L1992.1 350.1L2031.0 351.2L2069.9 350.8L2108.8 350.0L2147.7 349.8L2186.6 349.7M281.2 1738.7L320.0 1736.2L358.9 1735.9L397.8 1735.9L436.7 1735.9L475.6 1735.9L514.5 1735.9L553.4 1735.9L592.2 1735.9L631.1 1735.9L670.0 1735.8L708.9 1735.8L747.8 1735.7L786.7 1735.5L825.6 1735.1L864.4 1734.4L903.3 1733.1L942.2 1730.6L981.1 1726.1L1020.0 1717.7L1058.9 1702.0L1097.8 1673.0L1136.6 1620.1L1175.5 1526.0L1214.4 1368.9L1253.3 1138.8L1292.2 883.2L1331.1 670.3L1370.0 516.3L1408.9 438.7L1447.7 425.6L1486.6 415.8L1525.5 410.8L1564.4 407.7L1603.3 404.6L1642.2 404.1L1681.1 403.5L1719.9 404.0L1758.8 402.9L1797.7 402.9L1836.6 402.4L1875.5 403.3L1914.4 401.7L1953.3 402.1L1992.1 402.6L2031.0 402.5L2069.9 402.3L2108.8 401.8L2147.7 400.5L2186.6 401.0M281.2 1737.8L320.0 1736.2L358.9 1735.9L397.8 1735.9L436.7 1735.9L475.6 1735.9L514.5 1735.9L553.4 1735.9L592.2 1735.9L631.1 1735.9L670.0 1735.9L708.9 1735.8L747.8 1735.8L786.7 1735.6L825.6 1735.4L864.4 1734.9L903.3 1733.9L942.2 1732.0L981.1 1728.2L1020.0 1720.6L1058.9 1705.8L1097.8 1677.2L1136.6 1624.4L1175.5 1532.6L1214.4 1389.6L1253.3 1201.6L1292.2 970.2L1331.1 809.5L1370.0 696.8L1408.9 627.0L1447.7 585.7L1486.6 556.2L1525.5 538.9L1564.4 528.5L1603.3 519.9L1642.2 515.4L1681.1 514.3L1719.9 513.9L1758.8 514.6L1797.7 513.7L1836.6 513.7L1875.5 515.5L1914.4 515.3L1953.3 514.6L1992.1 515.0L2031.0 515.0L2069.9 515.7L2108.8 514.9L2147.7 515.1L2186.6 515.7M281.2 1738.9L320.0 1736.2L358.9 1735.9L397.8 1735.9L436.7 1735.9L475.6 1735.9L514.5 1735.9L553.4 1735.9L592.2 1735.9L631.1 1735.9L670.0 1735.9L708.9 1735.8L747.8 1735.8L786.7 1735.6L825.6 1735.4L864.4 1734.9L903.3 1733.9L942.2 1732.0L981.1 1728.3L1020.0 1720.9L1058.9 1706.6L1097.8 1679.3L1136.6 1628.8L1175.5 1540.3L1214.4 1400.9L1253.3 1214.1L1292.2 999.3L1331.1 833.2L1370.0 718.0L1408.9 659.7L1447.7 619.2L1486.6 592.4L1525.5 577.9L1564.4 569.3L1603.3 562.9L1642.2 561.2L1681.1 560.4L1719.9 559.7L1758.8 560.2L1797.7 560.2L1836.6 560.7L1875.5 558.9L1914.4 559.4L1953.3 559.1L1992.1 559.6L2031.0 558.4L2069.9 558.4L2108.8 558.9L2147.7 559.1L2186.6 558.7M281.2 1738.3L320.0 1736.2L358.9 1735.9L397.8 1735.9L436.7 1735.9L475.6 1735.9L514.5 1735.9L553.4 1735.9L592.2 1735.9L631.1 1735.9L670.0 1735.9L708.9 1735.8L747.8 1735.8L786.7 1735.6L825.6 1735.3L864.4 1734.8L903.3 1733.8L942.2 1731.9L981.1 1728.1L1020.0 1720.9L1058.9 1707.2L1097.8 1681.0L1136.6 1632.5L1175.5 1546.7L1214.4 1408.4L1253.3 1218.6L1292.2 1007.6L1331.1 838.0L1370.0 726.9L1408.9 681.2L1447.7 638.5L1486.6 627.3L1525.5 616.4L1564.4 610.9L1603.3 605.0L1642.2 603.5L1681.1 603.9L1719.9 603.6L1758.8 603.0L1797.7 603.1L1836.6 603.1L1875.5 603.6L1914.4 603.8L1953.3 603.0L1992.1 603.4L2031.0 602.6L2069.9 602.9L2108.8 603.3L2147.7 602.7L2186.6 602.8M281.2 1739.2L320.0 1736.2L358.9 1735.9L397.8 1735.9L436.7 1735.9L475.6 1735.9L514.5 1735.9L553.4 1735.9L592.2 1735.9L631.1 1735.9L670.0 1735.9L708.9 1735.8L747.8 1735.8L786.7 1735.6L825.6 1735.4L864.4 1734.9L903.3 1733.9L942.2 1732.0L981.1 1728.3L1020.0 1721.2L1058.9 1707.5L1097.8 1681.4L1136.6 1633.1L1175.5 1548.1L1214.4 1411.9L1253.3 1226.4L1292.2 1020.2L1331.1 857.0L1370.0 749.2L1408.9 686.5L1447.7 649.6L1486.6 633.7L1525.5 623.7L1564.4 620.1L1603.3 617.3L1642.2 616.7L1681.1 616.4L1719.9 615.8L1758.8 615.3L1797.7 615.8L1836.6 615.6L1875.5 615.4L1914.4 615.3L1953.3 616.2L1992.1 615.4L2031.0 615.7L2069.9 616.0L2108.8 616.0L2147.7 615.7L2186.6 615.6M281.2 1737.5L320.0 1736.2L358.9 1735.9L397.8 1735.9L436.7 1735.9L475.6 1735.9L514.5 1735.9L553.4 1735.9L592.2 1735.9L631.1 1735.9L670.0 1735.8L708.9 1735.8L747.8 1735.7L786.7 1735.6L825.6 1735.3L864.4 1734.8L903.3 1733.8L942.2 1731.9L981.1 1728.2L1020.0 1721.2L1058.9 1708.0L1097.8 1683.0L1136.6 1636.8L1175.5 1554.7L1214.4 1420.7L1253.3 1233.6L1292.2 1026.3L1331.1 862.5L1370.0 753.2L1408.9 692.9L1447.7 670.3L1486.6 660.8L1525.5 656.1L1564.4 651.3L1603.3 650.5L1642.2 650.3L1681.1 649.0L1719.9 649.7L1758.8 649.0L1797.7 650.0L1836.6 650.1L1875.5 649.2L1914.4 649.3L1953.3 648.9L1992.1 648.6L2031.0 648.7L2069.9 649.0L2108.8 649.2L2147.7 649.2L2186.6 648.5M281.2 1738.8L320.0 1736.2L358.9 1735.9L397.8 1735.9L436.7 1735.9L475.6 1735.9L514.5 1735.9L553.4 1735.9L592.2 1735.9L631.1 1735.9L670.0 1735.8L708.9 1735.8L747.8 1735.7L786.7 1735.6L825.6 1735.3L864.4 1734.8L903.3 1733.8L942.2 1731.9L981.1 1728.3L1020.0 1721.4L1058.9 1708.4L1097.8 1683.9L1136.6 1638.7L1175.5 1558.1L1214.4 1425.6L1253.3 1238.7L1292.2 1038.6L1331.1 870.9L1370.0 759.3L1408.9 701.8L1447.7 682.8L1486.6 675.6L1525.5 670.8L1564.4 666.1L1603.3 665.3L1642.2 665.2L1681.1 664.5L1719.9 665.4L1758.8 665.3L1797.7 664.9L1836.6 664.4L1875.5 664.3L1914.4 664.0L1953.3 663.8L1992.1 664.0L2031.0 663.4L2069.9 663.0L2108.8 663.1L2147.7 662.6L2186.6 663.0" stroke="#00BA38" stroke-width="1.3" fill="none" stroke-linejoin="round"/>
<path d="M281.2 1738.2L320.0 1736.2L358.9 1735.9L397.8 1735.9L436.7 1735.9L475.6 1735.9L514.5 1735.9L553.4 1735.8L592.2 1735.8L631.1 1735.7L670.0 1735.5L708.9 1735.1L747.8 1734.2L786.7 1732.6L825.6 1729.2L864.4 1722.5L903.3 1709.4L942.2 1684.1L981.1 1636.7L1020.0 1553.2L1058.9 1420.6L1097.8 1214.1L1136.6 959.1L1175.5 695.1L1214.4 538.9L1253.3 423.3L1292.2 347.4L1331.1 300.0L1370.0 270.7L1408.9 252.6L1447.7 241.7L1486.6 234.2L1525.5 231.1L1564.4 228.6L1603.3 227.2L1642.2 226.3L1681.1 227.0L1719.9 227.9L1758.8 227.5L1797.7 227.8L1836.6 227.9L1875.5 227.6L1914.4 228.8L1953.3 227.8L1992.1 229.1L2031.0 228.8L2069.9 228.4L2108.8 228.7L2147.7 229.6L2186.6 229.4M281.2 1737.7L320.0 1736.2L358.9 1735.9L397.8 1735.9L436.7 1735.9L475.6 1735.9L514.5 1735.9L553.4 1735.8L592.2 1735.8L631.1 1735.6L670.0 1735.4L708.9 1735.0L747.8 1734.1L786.7 1732.4L825.6 1729.0L864.4 1722.4L903.3 1709.6L942.2 1685.2L981.1 1639.4L1020.0 1557.7L1058.9 1423.4L1097.8 1219.7L1136.6 960.2L1175.5 720.2L1214.4 541.9L1253.3 424.5L1292.2 351.6L1331.1 313.1L1370.0 293.9L1408.9 282.2L1447.7 275.5L1486.6 272.4L1525.5 271.6L1564.4 269.9L1603.3 268.8L1642.2 268.5L1681.1 268.6L1719.9 268.9L1758.8 269.9L1797.7 268.6L1836.6 268.2L1875.5 268.1L1914.4 269.1L1953.3 267.6L1992.1 267.8L2031.0 269.0L2069.9 269.0L2108.8 268.4L2147.7 269.2L2186.6 269.0M281.2 1738.4L320.0 1736.2L358.9 1735.9L397.8 1735.9L436.7 1735.9L475.6 1735.9L514.5 1735.9L553.4 1735.8L592.2 1735.8L631.1 1735.7L670.0 1735.5L708.9 1735.1L747.8 1734.4L786.7 1732.8L825.6 1729.7L864.4 1723.4L903.3 1711.0L942.2 1686.7L981.1 1640.9L1020.0 1560.0L1058.9 1431.8L1097.8 1228.1L1136.6 970.0L1175.5 736.1L1214.4 569.0L1253.3 459.1L1292.2 384.3L1331.1 339.4L1370.0 310.6L1408.9 293.9L1447.7 282.2L1486.6 275.5L1525.5 272.4L1564.4 271.0L1603.3 269.6L1642.2 270.5L1681.1 271.1L1719.9 268.9L1758.8 268.7L1797.7 269.0L1836.6 270.1L1875.5 270.0L1914.4 270.2L1953.3 269.5L1992.1 269.8L2031.0 270.4L2069.9 270.2L2108.8 270.0L2147.7 270.7L2186.6 271.0M281.2 1739.6L320.0 1736.2L358.9 1735.9L397.8 1735.9L436.7 1735.9L475.6 1735.9L514.5 1735.8L553.4 1735.8L592.2 1735.7L631.1 1735.5L670.0 1735.2L708.9 1734.6L747.8 1733.6L786.7 1731.6L825.6 1728.0L864.4 1721.3L903.3 1708.9L942.2 1686.0L981.1 1643.5L1020.0 1564.9L1058.9 1422.0L1097.8 1216.9L1136.6 959.1L1175.5 703.5L1214.4 523.0L1253.3 484.2L1292.2 469.9L1331.1 463.8L1370.0 459.6L1408.9 457.7L1447.7 455.7L1486.6 454.6L1525.5 453.8L1564.4 453.6L1603.3 453.5L1642.2 452.6L1681.1 452.6L1719.9 452.3L1758.8 453.3L1797.7 452.0L1836.6 452.3L1875.5 452.1L1914.4 451.2L1953.3 451.9L1992.1 452.1L2031.0 451.5L2069.9 451.7L2108.8 451.8L2147.7 450.7L2186.6 450.4M281.2 1738.9L320.0 1736.2L358.9 1735.9L397.8 1735.9L436.7 1735.9L475.6 1735.9L514.5 1735.8L553.4 1735.8L592.2 1735.7L631.1 1735.6L670.0 1735.3L708.9 1734.8L747.8 1733.8L786.7 1731.9L825.6 1728.5L864.4 1722.1L903.3 1710.3L942.2 1688.2L981.1 1647.1L1020.0 1571.3L1058.9 1434.5L1097.8 1233.6L1136.6 970.0L1175.5 726.1L1214.4 569.6L1253.3 523.0L1292.2 508.7L1331.1 502.0L1370.0 497.6L1408.9 495.3L1447.7 493.9L1486.6 493.1L1525.5 492.3L1564.4 491.8L1603.3 491.4L1642.2 491.8L1681.1 490.9L1719.9 490.8L1758.8 490.8L1797.7 490.1L1836.6 489.4L1875.5 489.8L1914.4 490.1L1953.3 489.0L1992.1 489.3L2031.0 488.2L2069.9 488.7L2108.8 487.9L2147.7 488.7L2186.6 487.8M281.2 1738.9L320.0 1736.2L358.9 1735.9L397.8 1735.9L436.7 1735.9L475.6 1735.9L514.5 1735.8L553.4 1735.8L592.2 1735.7L631.1 1735.6L670.0 1735.3L708.9 1734.8L747.8 1733.8L786.7 1732.0L825.6 1728.7L864.4 1722.5L903.3 1710.8L942.2 1689.2L981.1 1648.8L1020.0 1573.9L1058.9 1437.3L1097.8 1239.2L1136.6 984.8L1175.5 750.1L1214.4 575.1L1253.3 537.7L1292.2 524.9L1331.1 519.3L1370.0 514.9L1408.9 513.7L1447.7 512.9L1486.6 512.2L1525.5 511.6L1564.4 511.0L1603.3 510.4L1642.2 510.3L1681.1 509.8L1719.9 509.7L1758.8 509.5L1797.7 509.1L1836.6 508.9L1875.5 508.4L1914.4 508.3L1953.3 507.7L1992.1 508.2L2031.0 507.7L2069.9 507.7L2108.8 507.9L2147.7 508.0L2186.6 506.5M281.2 1738.5L320.0 1736.2L358.9 1735.9L397.8 1735.9L436.7 1735.9L475.6 1735.9L514.5 1735.9L553.4 1735.8L592.2 1735.8L631.1 1735.7L670.0 1735.5L708.9 1735.0L747.8 1734.3L786.7 1732.8L825.6 1729.9L864.4 1724.4L903.3 1714.0L942.2 1694.1L981.1 1656.3L1020.0 1586.1L1058.9 1461.1L1097.8 1283.9L1136.6 1068.5L1175.5 868.1L1214.4 727.2L1253.3 670.3L1292.2 656.1L1331.1 646.8L1370.0 639.0L1408.9 634.3L1447.7 631.8L1486.6 630.1L1525.5 628.9L1564.4 629.1L1603.3 629.9L1642.2 629.2L1681.1 629.1L1719.9 627.4L1758.8 629.0L1797.7 627.5L1836.6 628.0L1875.5 627.3L1914.4 627.6L1953.3 627.2L1992.1 627.0L2031.0 627.0L2069.9 626.4L2108.8 626.4L2147.7 625.7L2186.6 626.2M281.2 1738.1L320.0 1736.2L358.9 1735.9L397.8 1735.9L436.7 1735.9L475.6 1735.9L514.5 1735.9L553.4 1735.8L592.2 1735.8L631.1 1735.7L670.0 1735.5L708.9 1735.1L747.8 1734.3L786.7 1732.9L825.6 1730.1L864.4 1724.8L903.3 1714.7L942.2 1695.3L981.1 1658.6L1020.0 1590.1L1058.9 1468.0L1097.8 1300.6L1136.6 1090.8L1175.5 898.8L1214.4 747.6L1253.3 685.1L1292.2 660.8L1331.1 651.9L1370.0 646.0L1408.9 643.5L1447.7 641.7L1486.6 640.4L1525.5 639.4L1564.4 638.5L1603.3 638.6L1642.2 638.2L1681.1 638.0L1719.9 638.8L1758.8 637.8L1797.7 638.1L1836.6 637.8L1875.5 638.0L1914.4 637.5L1953.3 638.6L1992.1 637.1L2031.0 637.4L2069.9 638.3L2108.8 637.6L2147.7 637.7L2186.6 637.9M281.2 1738.8L320.0 1736.2L358.9 1735.9L397.8 1735.9L436.7 1735.9L475.6 1735.9L514.5 1735.9L553.4 1735.8L592.2 1735.8L631.1 1735.7L670.0 1735.5L708.9 1735.1L747.8 1734.4L786.7 1733.0L825.6 1730.3L864.4 1725.2L903.3 1715.3L942.2 1696.5L981.1 1661.0L1020.0 1595.9L1058.9 1483.1L1097.8 1309.0L1136.6 1103.1L1175.5 907.2L1214.4 773.8L1253.3 694.0L1292.2 668.1L1331.1 658.0L1370.0 650.5L1408.9 647.7L1447.7 646.0L1486.6 644.9L1525.5 643.9L1564.4 643.7L1603.3 643.9L1642.2 643.2L1681.1 643.7L1719.9 644.1L1758.8 641.9L1797.7 642.4L1836.6 643.5L1875.5 642.7L1914.4 642.2L1953.3 641.4L1992.1 640.7L2031.0 641.0L2069.9 641.1L2108.8 640.4L2147.7 640.5L2186.6 640.1M281.2 1738.1L320.0 1736.2L358.9 1735.9L397.8 1735.9L436.7 1735.9L475.6 1735.9L514.5 1735.9L553.4 1735.8L592.2 1735.8L631.1 1735.7L670.0 1735.5L708.9 1735.2L747.8 1734.5L786.7 1733.2L825.6 1730.7L864.4 1725.7L903.3 1716.0L942.2 1697.5L981.1 1662.4L1020.0 1598.6L1058.9 1490.4L1097.8 1325.7L1136.6 1127.3L1175.5 949.0L1214.4 812.0L1253.3 723.6L1292.2 678.7L1331.1 664.4L1370.0 655.2L1408.9 652.4L1447.7 650.9L1486.6 650.5L1525.5 649.9L1564.4 650.2L1603.3 649.5L1642.2 649.8L1681.1 650.8L1719.9 649.4L1758.8 650.0L1797.7 649.7L1836.6 649.0L1875.5 649.9L1914.4 650.8L1953.3 650.6L1992.1 649.7L2031.0 651.1L2069.9 650.2L2108.8 650.2L2147.7 651.1L2186.6 650.5M281.2 1737.9L320.0 1736.2L358.9 1735.9L397.8 1735.9L436.7 1735.9L475.6 1735.9L514.5 1735.9L553.4 1735.8L592.2 1735.8L631.1 1735.7L670.0 1735.5L708.9 1735.2L747.8 1734.5L786.7 1733.2L825.6 1730.7L864.4 1725.9L903.3 1716.5L942.2 1698.4L981.1 1664.2L1020.0 1601.9L1058.9 1495.9L1097.8 1334.1L1136.6 1138.5L1175.5 954.6L1214.4 820.4L1253.3 740.0L1292.2 701.8L1331.1 684.8L1370.0 675.9L1408.9 668.9L1447.7 666.1L1486.6 665.3L1525.5 664.7L1564.4 665.0L1603.3 662.5L1642.2 663.4L1681.1 663.1L1719.9 663.3L1758.8 662.9L1797.7 662.6L1836.6 662.4L1875.5 662.7L1914.4 661.7L1953.3 661.6L1992.1 661.7L2031.0 661.8L2069.9 661.7L2108.8 661.5L2147.7 660.6L2186.6 660.5M281.2 1738.8L320.0 1736.2L358.9 1735.9L397.8 1735.9L436.7 1735.9L475.6 1735.9L514.5 1735.9L553.4 1735.8L592.2 1735.8L631.1 1735.7L670.0 1735.5L708.9 1735.2L747.8 1734.6L786.7 1733.3L825.6 1730.8L864.4 1726.1L903.3 1716.8L942.2 1699.2L981.1 1665.7L1020.0 1604.4L1058.9 1498.7L1097.8 1339.7L1136.6 1143.2L1175.5 957.4L1214.4 826.0L1253.3 747.0L1292.2 711.9L1331.1 697.6L1370.0 690.1L1408.9 685.6L1447.7 682.0L1486.6 681.2L1525.5 679.8L1564.4 678.7L1603.3 678.4L1642.2 679.0L1681.1 678.0L1719.9 677.9L1758.8 678.2L1797.7 677.8L1836.6 678.7L1875.5 679.5L1914.4 678.8L1953.3 678.6L1992.1 678.7L2031.0 679.3L2069.9 680.2L2108.8 677.9L2147.7 679.2L2186.6 679.2" stroke="#00BFC4" stroke-width="1.3" fill="none" stroke-linejoin="round"/>
<path d="M281.2 1738.6L320.0 1736.2L358.9 1735.9L397.8 1735.8L436.7 1735.8L475.6 1735.7L514.5 1735.5L553.4 1735.1L592.2 1734.4L631.1 1733.0L670.0 1730.3L708.9 1725.1L747.8 1715.3L786.7 1696.4L825.6 1661.0L864.4 1595.5L903.3 1480.2L942.2 1294.2L981.1 1041.1L1020.0 768.2L1058.9 538.9L1097.8 384.8L1136.6 298.1L1175.5 259.6L1214.4 243.6L1253.3 234.7L1292.2 230.0L1331.1 227.7L1370.0 225.5L1408.9 225.0L1447.7 224.1L1486.6 224.1L1525.5 224.0L1564.4 223.3L1603.3 224.8L1642.2 224.4L1681.1 224.6L1719.9 223.8L1758.8 223.1L1797.7 223.6L1836.6 223.2L1875.5 224.4L1914.4 223.1L1953.3 223.6L1992.1 222.0L2031.0 222.4L2069.9 222.2L2108.8 222.7L2147.7 222.2L2186.6 222.4M281.2 1738.2L320.0 1736.2L358.9 1735.9L397.8 1735.8L436.7 1735.8L475.6 1735.7L514.5 1735.5L553.4 1735.2L592.2 1734.5L631.1 1733.2L670.0 1730.6L708.9 1725.6L747.8 1715.9L786.7 1697.4L825.6 1662.2L864.4 1597.2L903.3 1483.0L942.2 1300.6L981.1 1052.3L1020.0 786.1L1058.9 562.0L1097.8 418.0L1136.6 325.7L1175.5 282.2L1214.4 265.4L1253.3 256.5L1292.2 250.9L1331.1 247.3L1370.0 244.8L1408.9 243.1L1447.7 245.5L1486.6 243.0L1525.5 243.3L1564.4 242.5L1603.3 242.9L1642.2 241.9L1681.1 242.8L1719.9 243.0L1758.8 242.2L1797.7 242.2L1836.6 242.5L1875.5 242.3L1914.4 241.6L1953.3 241.5L1992.1 242.1L2031.0 241.9L2069.9 242.5L2108.8 240.5L2147.7 241.4L2186.6 241.1M281.2 1738.3L320.0 1736.2L358.9 1735.9L397.8 1735.9L436.7 1735.8L475.6 1735.8L514.5 1735.6L553.4 1735.4L592.2 1734.9L631.1 1733.9L670.0 1731.8L708.9 1727.5L747.8 1718.9L786.7 1701.9L825.6 1668.8L864.4 1607.2L903.3 1500.5L942.2 1336.9L981.1 1113.7L1020.0 857.5L1058.9 651.9L1097.8 510.4L1136.6 419.4L1175.5 362.5L1214.4 325.7L1253.3 302.2L1292.2 289.1L1331.1 280.2L1370.0 275.5L1408.9 273.9L1447.7 274.4L1486.6 274.5L1525.5 275.3L1564.4 274.0L1603.3 273.3L1642.2 274.1L1681.1 274.1L1719.9 274.0L1758.8 275.3L1797.7 273.5L1836.6 275.7L1875.5 275.2L1914.4 274.1L1953.3 275.9L1992.1 276.0L2031.0 276.5L2069.9 276.3L2108.8 277.9L2147.7 277.3L2186.6 277.1M281.2 1739.3L320.0 1736.2L358.9 1735.9L397.8 1735.8L436.7 1735.8L475.6 1735.6L514.5 1735.4L553.4 1735.0L592.2 1734.2L631.1 1732.7L670.0 1730.0L708.9 1724.9L747.8 1715.5L786.7 1698.0L825.6 1665.4L864.4 1605.1L903.3 1495.1L942.2 1303.4L981.1 1055.1L1020.0 790.0L1058.9 562.3L1097.8 519.3L1136.6 501.5L1175.5 491.7L1214.4 486.7L1253.3 483.9L1292.2 481.9L1331.1 480.5L1370.0 480.3L1408.9 480.9L1447.7 480.4L1486.6 479.4L1525.5 479.8L1564.4 479.0L1603.3 478.6L1642.2 479.7L1681.1 478.1L1719.9 478.8L1758.8 477.1L1797.7 477.7L1836.6 478.2L1875.5 477.6L1914.4 477.4L1953.3 477.1L1992.1 476.3L2031.0 476.6L2069.9 475.7L2108.8 476.1L2147.7 476.4L2186.6 476.1M281.2 1738.3L320.0 1736.2L358.9 1735.9L397.8 1735.8L436.7 1735.8L475.6 1735.6L514.5 1735.4L553.4 1735.0L592.2 1734.2L631.1 1732.8L670.0 1730.1L708.9 1725.2L747.8 1716.0L786.7 1699.0L825.6 1667.3L864.4 1608.7L903.3 1501.2L942.2 1311.8L981.1 1066.2L1020.0 799.5L1058.9 573.7L1097.8 528.5L1136.6 508.4L1175.5 504.5L1214.4 502.6L1253.3 501.5L1292.2 500.4L1331.1 500.4L1370.0 499.2L1408.9 499.3L1447.7 498.4L1486.6 497.9L1525.5 497.7L1564.4 497.0L1603.3 498.0L1642.2 497.3L1681.1 497.5L1719.9 497.9L1758.8 497.2L1797.7 496.5L1836.6 496.9L1875.5 496.2L1914.4 495.3L1953.3 495.3L1992.1 495.1L2031.0 495.0L2069.9 495.0L2108.8 495.7L2147.7 493.9L2186.6 494.2M281.2 1737.8L320.0 1736.2L358.9 1735.9L397.8 1735.8L436.7 1735.8L475.6 1735.7L514.5 1735.5L553.4 1735.1L592.2 1734.4L631.1 1733.2L670.0 1730.8L708.9 1726.4L747.8 1718.0L786.7 1702.3L825.6 1672.9L864.4 1617.8L903.3 1516.2L942.2 1336.9L981.1 1113.7L1020.0 857.0L1058.9 643.8L1097.8 531.0L1136.6 519.3L1175.5 515.4L1214.4 513.5L1253.3 512.1L1292.2 511.5L1331.1 511.8L1370.0 509.3L1408.9 508.3L1447.7 508.4L1486.6 508.6L1525.5 508.7L1564.4 508.7L1603.3 507.3L1642.2 507.5L1681.1 507.2L1719.9 506.5L1758.8 506.1L1797.7 507.0L1836.6 504.9L1875.5 506.3L1914.4 503.8L1953.3 504.2L1992.1 504.4L2031.0 503.1L2069.9 503.5L2108.8 502.8L2147.7 502.8L2186.6 502.6M281.2 1738.8L320.0 1736.2L358.9 1735.9L397.8 1735.9L436.7 1735.8L475.6 1735.8L514.5 1735.7L553.4 1735.4L592.2 1735.0L631.1 1734.0L670.0 1732.0L708.9 1728.0L747.8 1720.0L786.7 1704.0L825.6 1672.9L864.4 1614.5L903.3 1512.6L942.2 1356.4L981.1 1141.6L1020.0 932.3L1058.9 755.9L1097.8 655.2L1136.6 592.4L1175.5 552.8L1214.4 530.8L1253.3 517.7L1292.2 512.6L1331.1 508.2L1370.0 507.3L1408.9 507.1L1447.7 505.8L1486.6 506.6L1525.5 504.7L1564.4 505.3L1603.3 505.9L1642.2 505.4L1681.1 504.7L1719.9 504.0L1758.8 506.1L1797.7 504.9L1836.6 505.2L1875.5 505.6L1914.4 504.8L1953.3 505.1L1992.1 504.7L2031.0 505.5L2069.9 505.2L2108.8 505.0L2147.7 505.1L2186.6 505.1M281.2 1737.7L320.0 1736.2L358.9 1735.9L397.8 1735.9L436.7 1735.8L475.6 1735.8L514.5 1735.6L553.4 1735.4L592.2 1734.9L631.1 1733.9L670.0 1731.9L708.9 1727.9L747.8 1720.1L786.7 1704.7L825.6 1674.8L864.4 1618.5L903.3 1519.1L942.2 1362.0L981.1 1152.7L1020.0 946.2L1058.9 772.1L1097.8 660.2L1136.6 611.7L1175.5 580.7L1214.4 565.6L1253.3 558.1L1292.2 553.4L1331.1 551.4L1370.0 548.9L1408.9 548.8L1447.7 547.8L1486.6 548.1L1525.5 548.6L1564.4 547.8L1603.3 549.0L1642.2 547.8L1681.1 548.4L1719.9 547.7L1758.8 547.8L1797.7 548.5L1836.6 547.7L1875.5 547.8L1914.4 548.3L1953.3 546.8L1992.1 547.5L2031.0 548.5L2069.9 548.4L2108.8 547.7L2147.7 547.7L2186.6 547.8M281.2 1739.1L320.0 1736.2L358.9 1735.9L397.8 1735.9L436.7 1735.8L475.6 1735.8L514.5 1735.6L553.4 1735.4L592.2 1734.8L631.1 1733.8L670.0 1731.8L708.9 1727.9L747.8 1720.2L786.7 1705.3L825.6 1676.4L864.4 1622.0L903.3 1524.8L942.2 1367.6L981.1 1161.1L1020.0 957.4L1058.9 785.0L1097.8 675.0L1136.6 617.8L1175.5 603.9L1214.4 595.8L1253.3 592.2L1292.2 589.9L1331.1 587.7L1370.0 587.4L1408.9 586.3L1447.7 586.0L1486.6 586.5L1525.5 586.4L1564.4 586.8L1603.3 587.0L1642.2 586.9L1681.1 586.9L1719.9 585.7L1758.8 586.2L1797.7 586.0L1836.6 586.4L1875.5 586.6L1914.4 586.6L1953.3 586.3L1992.1 585.5L2031.0 585.7L2069.9 585.9L2108.8 585.7L2147.7 586.3L2186.6 585.5M281.2 1738.9L320.0 1736.2L358.9 1735.9L397.8 1735.9L436.7 1735.8L475.6 1735.8L514.5 1735.6L553.4 1735.3L592.2 1734.8L631.1 1733.8L670.0 1731.8L708.9 1727.9L747.8 1720.4L786.7 1706.0L825.6 1678.2L864.4 1625.7L903.3 1530.5L942.2 1373.2L981.1 1169.5L1020.0 965.8L1058.9 793.9L1097.8 701.0L1136.6 675.0L1175.5 666.1L1214.4 660.0L1253.3 652.4L1292.2 649.4L1331.1 648.0L1370.0 647.5L1408.9 646.6L1447.7 648.3L1486.6 646.2L1525.5 647.0L1564.4 647.3L1603.3 647.2L1642.2 647.2L1681.1 646.5L1719.9 645.8L1758.8 645.8L1797.7 645.6L1836.6 646.8L1875.5 646.6L1914.4 644.7L1953.3 644.9L1992.1 644.1L2031.0 644.5L2069.9 645.6L2108.8 644.2L2147.7 644.4L2186.6 644.6M281.2 1737.9L320.0 1736.2L358.9 1735.9L397.8 1735.9L436.7 1735.8L475.6 1735.8L514.5 1735.6L553.4 1735.3L592.2 1734.8L631.1 1733.8L670.0 1731.9L708.9 1728.1L747.8 1720.7L786.7 1706.5L825.6 1679.1L864.4 1627.3L903.3 1533.0L942.2 1376.0L981.1 1177.8L1020.0 968.6L1058.9 797.0L1097.8 708.0L1136.6 684.2L1175.5 669.2L1214.4 661.6L1253.3 656.9L1292.2 654.7L1331.1 655.5L1370.0 655.9L1408.9 655.5L1447.7 655.3L1486.6 654.7L1525.5 653.3L1564.4 654.8L1603.3 653.2L1642.2 652.8L1681.1 653.5L1719.9 653.5L1758.8 652.6L1797.7 652.0L1836.6 651.2L1875.5 651.7L1914.4 651.1L1953.3 652.0L1992.1 652.0L2031.0 652.3L2069.9 651.8L2108.8 651.1L2147.7 650.6L2186.6 650.5M281.2 1738.7L320.0 1736.2L358.9 1735.9L397.8 1735.9L436.7 1735.9L475.6 1735.8L514.5 1735.8L553.4 1735.6L592.2 1735.3L631.1 1734.6L670.0 1733.2L708.9 1730.4L747.8 1724.6L786.7 1712.4L825.6 1687.0L864.4 1633.2L903.3 1551.7L942.2 1415.0L981.1 1230.9L1020.0 1032.7L1058.9 867.8L1097.8 757.3L1136.6 696.2L1175.5 675.6L1214.4 670.0L1253.3 665.8L1292.2 664.1L1331.1 662.8L1370.0 661.7L1408.9 661.5L1447.7 661.3L1486.6 662.3L1525.5 660.6L1564.4 661.8L1603.3 659.9L1642.2 659.9L1681.1 659.5L1719.9 659.3L1758.8 659.5L1797.7 659.7L1836.6 659.4L1875.5 658.2L1914.4 659.2L1953.3 658.8L1992.1 658.8L2031.0 658.5L2069.9 658.2L2108.8 657.7L2147.7 657.8L2186.6 657.4" stroke="#619CFF" stroke-width="1.3" fill="none" stroke-linejoin="round"/>
<path d="M281.2 1738.4L320.0 1736.1L358.9 1735.7L397.8 1735.5L436.7 1735.0L475.6 1734.1L514.5 1732.3L553.4 1728.6L592.2 1721.5L631.1 1707.4L670.0 1680.4L708.9 1630.0L747.8 1541.5L786.7 1401.1L825.6 1175.0L864.4 894.6L903.3 627.3L942.2 470.2L981.1 338.0L1020.0 258.7L1058.9 205.4L1097.8 169.1L1136.6 146.3L1175.5 130.9L1214.4 122.3L1253.3 116.4L1292.2 114.2L1331.1 113.3L1370.0 112.5L1408.9 112.2L1447.7 112.7L1486.6 113.2L1525.5 113.7L1564.4 114.2L1603.3 114.7L1642.2 115.4L1681.1 116.1L1719.9 116.8L1758.8 117.4L1797.7 118.1L1836.6 118.8L1875.5 119.5L1914.4 119.5L1953.3 119.6L1992.1 119.7L2031.0 119.8L2069.9 119.6L2108.8 119.5L2147.7 118.6L2186.6 117.0M281.2 1738.5L320.0 1736.0L358.9 1735.6L397.8 1735.3L436.7 1734.8L475.6 1733.8L514.5 1731.9L553.4 1728.1L592.2 1720.8L631.1 1706.9L670.0 1680.5L708.9 1630.8L747.8 1540.5L786.7 1385.4L825.6 1160.3L864.4 887.1L903.3 617.8L942.2 433.1L981.1 305.0L1020.0 235.6L1058.9 198.4L1097.8 182.3L1136.6 172.8L1175.5 165.8L1214.4 161.6L1253.3 159.1L1292.2 158.5L1331.1 158.0L1370.0 157.7L1408.9 157.6L1447.7 157.4L1486.6 157.7L1525.5 158.7L1564.4 157.6L1603.3 158.0L1642.2 158.6L1681.1 158.1L1719.9 158.3L1758.8 158.4L1797.7 158.7L1836.6 158.5L1875.5 159.3L1914.4 159.1L1953.3 159.4L1992.1 158.9L2031.0 159.2L2069.9 159.5L2108.8 159.9L2147.7 159.7L2186.6 159.7M281.2 1738.2L320.0 1736.1L358.9 1735.7L397.8 1735.5L436.7 1735.0L475.6 1734.1L514.5 1732.4L553.4 1728.8L592.2 1721.9L631.1 1708.2L670.0 1681.9L708.9 1632.7L747.8 1545.5L786.7 1403.9L825.6 1183.4L864.4 926.6L903.3 671.4L942.2 489.2L981.1 366.7L1020.0 288.9L1058.9 233.6L1097.8 198.4L1136.6 172.8L1175.5 157.1L1214.4 147.7L1253.3 142.6L1292.2 140.7L1331.1 139.4L1370.0 138.5L1408.9 138.7L1447.7 139.1L1486.6 139.5L1525.5 140.0L1564.4 140.5L1603.3 141.0L1642.2 141.0L1681.1 141.1L1719.9 141.2L1758.8 141.3L1797.7 141.4L1836.6 141.4L1875.5 141.5L1914.4 142.1L1953.3 143.1L1992.1 143.6L2031.0 145.4L2069.9 143.7L2108.8 144.6L2147.7 146.1L2186.6 146.5M281.2 1737.5L320.0 1736.1L358.9 1735.6L397.8 1735.4L436.7 1735.0L475.6 1734.1L514.5 1732.3L553.4 1728.7L592.2 1721.8L631.1 1708.4L670.0 1682.6L708.9 1634.4L747.8 1548.4L786.7 1406.6L825.6 1189.0L864.4 935.2L903.3 682.6L942.2 495.8L981.1 371.7L1020.0 289.1L1058.9 236.7L1097.8 206.5L1136.6 185.1L1175.5 172.8L1214.4 164.1L1253.3 160.2L1292.2 158.1L1331.1 156.5L1370.0 155.2L1408.9 153.9L1447.7 156.4L1486.6 154.7L1525.5 155.2L1564.4 155.1L1603.3 155.0L1642.2 156.0L1681.1 155.0L1719.9 155.4L1758.8 153.0L1797.7 154.8L1836.6 155.1L1875.5 155.1L1914.4 155.3L1953.3 155.5L1992.1 155.1L2031.0 154.6L2069.9 155.0L2108.8 154.4L2147.7 155.0L2186.6 154.9M281.2 1739.2L320.0 1736.1L358.9 1735.7L397.8 1735.5L436.7 1735.0L475.6 1734.1L514.5 1732.3L553.4 1728.8L592.2 1722.0L631.1 1708.6L670.0 1682.9L708.9 1634.9L747.8 1549.4L786.7 1409.4L825.6 1194.6L864.4 941.2L903.3 688.7L942.2 503.1L981.1 378.4L1020.0 299.7L1058.9 248.7L1097.8 215.2L1136.6 191.2L1175.5 178.1L1214.4 168.3L1253.3 162.7L1292.2 161.6L1331.1 161.0L1370.0 160.8L1408.9 162.4L1447.7 163.5L1486.6 164.6L1525.5 165.7L1564.4 166.9L1603.3 168.0L1642.2 169.0L1681.1 169.9L1719.9 170.8L1758.8 171.3L1797.7 171.8L1836.6 172.3L1875.5 172.8L1914.4 173.1L1953.3 172.9L1992.1 171.9L2031.0 172.4L2069.9 173.7L2108.8 172.8L2147.7 173.1L2186.6 172.8M281.2 1737.9L320.0 1736.1L358.9 1735.7L397.8 1735.4L436.7 1735.0L475.6 1734.1L514.5 1732.4L553.4 1729.0L592.2 1722.5L631.1 1709.9L670.0 1685.7L708.9 1640.9L747.8 1561.6L786.7 1431.8L825.6 1240.6L864.4 1001.5L903.3 762.6L942.2 585.2L981.1 469.1L1020.0 395.2L1058.9 348.3L1097.8 315.6L1136.6 296.1L1175.5 282.2L1214.4 276.0L1253.3 271.0L1292.2 268.5L1331.1 268.5L1370.0 268.5L1408.9 270.1L1447.7 271.8L1486.6 273.3L1525.5 274.9L1564.4 276.4L1603.3 278.0L1642.2 279.0L1681.1 280.0L1719.9 281.0L1758.8 281.5L1797.7 281.9L1836.6 282.7L1875.5 283.5L1914.4 284.1L1953.3 284.6L1992.1 284.1L2031.0 283.9L2069.9 283.6L2108.8 284.3L2147.7 284.8L2186.6 284.7M281.2 1739.2L320.0 1736.0L358.9 1735.6L397.8 1735.3L436.7 1734.8L475.6 1733.7L514.5 1731.8L553.4 1728.2L592.2 1721.4L631.1 1708.6L670.0 1684.6L708.9 1639.8L747.8 1557.6L786.7 1412.2L825.6 1200.2L864.4 939.9L903.3 692.3L942.2 478.9L981.1 386.5L1020.0 346.6L1058.9 329.3L1097.8 322.6L1136.6 318.1L1175.5 315.6L1214.4 314.0L1253.3 313.1L1292.2 312.3L1331.1 311.7L1370.0 314.0L1408.9 312.5L1447.7 311.7L1486.6 311.4L1525.5 311.7L1564.4 311.1L1603.3 311.6L1642.2 311.3L1681.1 311.4L1719.9 312.0L1758.8 311.7L1797.7 310.9L1836.6 311.3L1875.5 310.1L1914.4 310.0L1953.3 309.6L1992.1 310.4L2031.0 309.5L2069.9 310.7L2108.8 310.5L2147.7 309.9L2186.6 309.8M281.2 1738.2L320.0 1736.0L358.9 1735.6L397.8 1735.3L436.7 1734.7L475.6 1733.7L514.5 1731.7L553.4 1728.1L592.2 1721.4L631.1 1708.8L670.0 1685.3L708.9 1641.6L747.8 1560.9L786.7 1416.4L825.6 1205.7L864.4 939.5L903.3 695.1L942.2 481.7L981.1 423.9L1020.0 401.3L1058.9 389.0L1097.8 384.6L1136.6 381.2L1175.5 380.1L1214.4 378.7L1253.3 377.9L1292.2 377.6L1331.1 377.2L1370.0 377.3L1408.9 377.4L1447.7 377.0L1486.6 377.1L1525.5 376.2L1564.4 375.3L1603.3 376.1L1642.2 376.0L1681.1 375.1L1719.9 375.0L1758.8 374.9L1797.7 375.3L1836.6 374.5L1875.5 373.9L1914.4 374.8L1953.3 374.1L1992.1 374.7L2031.0 374.1L2069.9 374.2L2108.8 373.1L2147.7 373.5L2186.6 372.6M281.2 1738.4L320.0 1736.0L358.9 1735.5L397.8 1735.2L436.7 1734.7L475.6 1733.6L514.5 1731.7L553.4 1728.0L592.2 1721.4L631.1 1708.9L670.0 1686.0L708.9 1643.3L747.8 1564.7L786.7 1422.0L825.6 1215.5L864.4 942.3L903.3 697.4L942.2 491.4L981.1 449.6L1020.0 438.1L1058.9 432.8L1097.8 430.0L1136.6 428.4L1175.5 427.8L1214.4 427.2L1253.3 427.0L1292.2 427.6L1331.1 427.1L1370.0 426.8L1408.9 425.9L1447.7 426.7L1486.6 425.2L1525.5 425.4L1564.4 424.0L1603.3 423.7L1642.2 423.2L1681.1 423.2L1719.9 423.4L1758.8 422.6L1797.7 421.9L1836.6 422.8L1875.5 421.8L1914.4 421.9L1953.3 420.7L1992.1 421.7L2031.0 421.1L2069.9 420.4L2108.8 420.2L2147.7 420.9L2186.6 419.7M281.2 1739.2L320.0 1736.1L358.9 1735.7L397.8 1735.5L436.7 1735.0L475.6 1734.2L514.5 1732.6L553.4 1729.3L592.2 1723.0L631.1 1710.8L670.0 1687.4L708.9 1643.8L747.8 1566.7L786.7 1442.9L825.6 1261.5L864.4 1021.6L903.3 863.1L942.2 724.4L981.1 642.1L1020.0 593.8L1058.9 560.6L1097.8 545.3L1136.6 533.6L1175.5 528.0L1214.4 523.8L1253.3 522.4L1292.2 520.7L1331.1 520.2L1370.0 520.4L1408.9 519.6L1447.7 520.4L1486.6 519.0L1525.5 518.5L1564.4 519.3L1603.3 518.6L1642.2 518.6L1681.1 518.8L1719.9 518.9L1758.8 519.4L1797.7 517.3L1836.6 518.0L1875.5 516.4L1914.4 517.2L1953.3 517.3L1992.1 517.7L2031.0 516.4L2069.9 517.3L2108.8 516.0L2147.7 516.9L2186.6 516.5M281.2 1738.8L320.0 1736.0L358.9 1735.6L397.8 1735.4L436.7 1735.0L475.6 1734.1L514.5 1732.4L553.4 1729.1L592.2 1722.8L631.1 1710.9L670.0 1688.2L708.9 1646.0L747.8 1570.5L786.7 1444.9L825.6 1264.3L864.4 1055.1L903.3 869.8L942.2 735.0L981.1 645.7L1020.0 601.4L1058.9 582.1L1097.8 572.6L1136.6 568.2L1175.5 565.6L1214.4 562.0L1253.3 562.0L1292.2 561.5L1331.1 560.6L1370.0 561.1L1408.9 560.8L1447.7 560.7L1486.6 560.0L1525.5 560.2L1564.4 560.0L1603.3 559.5L1642.2 559.4L1681.1 559.5L1719.9 559.9L1758.8 560.0L1797.7 560.0L1836.6 559.6L1875.5 559.4L1914.4 559.8L1953.3 559.8L1992.1 558.9L2031.0 560.0L2069.9 559.0L2108.8 558.6L2147.7 559.3L2186.6 558.7M281.2 1738.1L320.0 1736.0L358.9 1735.6L397.8 1735.3L436.7 1734.8L475.6 1733.8L514.5 1732.0L553.4 1728.6L592.2 1722.2L631.1 1710.1L670.0 1687.5L708.9 1645.4L747.8 1568.7L786.7 1435.7L825.6 1243.4L864.4 1013.5L903.3 819.3L942.2 683.4L981.1 630.9L1020.0 615.6L1058.9 606.9L1097.8 601.9L1136.6 600.0L1175.5 597.7L1214.4 596.9L1253.3 595.8L1292.2 595.5L1331.1 595.2L1370.0 595.0L1408.9 594.0L1447.7 593.9L1486.6 594.6L1525.5 594.3L1564.4 594.2L1603.3 593.4L1642.2 593.5L1681.1 592.9L1719.9 594.1L1758.8 592.0L1797.7 592.7L1836.6 592.0L1875.5 592.3L1914.4 592.2L1953.3 591.5L1992.1 591.1L2031.0 591.5L2069.9 591.2L2108.8 590.5L2147.7 591.2L2186.6 590.5" stroke="#F564E3" stroke-width="1.3" fill="none" stroke-linejoin="round"/>
<path d="M281.2 1738.4h0M320.0 1736.1h0M358.9 1735.7h0M397.8 1735.5h0M436.7 1735.0h0M475.6 1734.1h0M514.5 1732.3h0M553.4 1728.6h0M592.2 1721.5h0M631.1 1707.4h0M670.0 1680.4h0M708.9 1630.0h0M747.8 1541.5h0M786.7 1401.1h0M825.6 1175.0h0M864.4 894.6h0M903.3 627.3h0M942.2 470.2h0M981.1 338.0h0M1020.0 258.7h0M1058.9 205.4h0M1097.8 169.1h0M1136.6 146.3h0M1175.5 130.9h0M1214.4 122.3h0M1253.3 116.4h0M1292.2 114.2h0M1331.1 113.3h0M1370.0 112.5h0M1408.9 112.2h0M1447.7 112.7h0M1486.6 113.2h0M1525.5 113.7h0M1564.4 114.2h0M1603.3 114.7h0M1642.2 115.4h0M1681.1 116.1h0M1719.9 116.8h0M1758.8 117.4h0M1797.7 118.1h0M1836.6 118.8h0M1875.5 119.5h0M1914.4 119.5h0M1953.3 119.6h0M1992.1 119.7h0M2031.0 119.8h0M2069.9 119.6h0M2108.8 119.5h0M2147.7 118.6h0M2186.6 117.0h0M281.2 1738.5h0M320.0 1736.0h0M358.9 1735.6h0M397.8 1735.3h0M436.7 1734.8h0M475.6 1733.8h0M514.5 1731.9h0M553.4 1728.1h0M592.2 1720.8h0M631.1 1706.9h0M670.0 1680.5h0M708.9 1630.8h0M747.8 1540.5h0M786.7 1385.4h0M825.6 1160.3h0M864.4 887.1h0M903.3 617.8h0M942.2 433.1h0M981.1 305.0h0M1020.0 235.6h0M1058.9 198.4h0M1097.8 182.3h0M1136.6 172.8h0M1175.5 165.8h0M1214.4 161.6h0M1253.3 159.1h0M1292.2 158.5h0M1331.1 158.0h0M1370.0 157.7h0M1408.9 157.6h0M1447.7 157.4h0M1486.6 157.7h0M1525.5 158.7h0M1564.4 157.6h0M1603.3 158.0h0M1642.2 158.6h0M1681.1 158.1h0M1719.9 158.3h0M1758.8 158.4h0M1797.7 158.7h0M1836.6 158.5h0M1875.5 159.3h0M1914.4 159.1h0M1953.3 159.4h0M1992.1 158.9h0M2031.0 159.2h0M2069.9 159.5h0M2108.8 159.9h0M2147.7 159.7h0M2186.6 159.7h0M281.2 1738.2h0M320.0 1736.1h0M358.9 1735.7h0M397.8 1735.5h0M436.7 1735.0h0M475.6 1734.1h0M514.5 1732.4h0M553.4 1728.8h0M592.2 1721.9h0M631.1 1708.2h0M670.0 1681.9h0M708.9 1632.7h0M747.8 1545.5h0M786.7 1403.9h0M825.6 1183.4h0M864.4 926.6h0M903.3 671.4h0M942.2 489.2h0M981.1 366.7h0M1020.0 288.9h0M1058.9 233.6h0M1097.8 198.4h0M1136.6 172.8h0M1175.5 157.1h0M1214.4 147.7h0M1253.3 142.6h0M1292.2 140.7h0M1331.1 139.4h0M1370.0 138.5h0M1408.9 138.7h0M1447.7 139.1h0M1486.6 139.5h0M1525.5 140.0h0M1564.4 140.5h0M1603.3 141.0h0M1642.2 141.0h0M1681.1 141.1h0M1719.9 141.2h0M1758.8 141.3h0M1797.7 141.4h0M1836.6 141.4h0M1875.5 141.5h0M1914.4 142.1h0M1953.3 143.1h0M1992.1 143.6h0M2031.0 145.4h0M2069.9 143.7h0M2108.8 144.6h0M2147.7 146.1h0M2186.6 146.5h0M281.2 1737.5h0M320.0 1736.1h0M358.9 1735.6h0M397.8 1735.4h0M436.7 1735.0h0M475.6 1734.1h0M514.5 1732.3h0M553.4 1728.7h0M592.2 1721.8h0M631.1 1708.4h0M670.0 1682.6h0M708.9 1634.4h0M747.8 1548.4h0M786.7 1406.6h0M825.6 1189.0h0M864.4 935.2h0M903.3 682.6h0M942.2 495.8h0M981.1 371.7h0M1020.0 289.1h0M1058.9 236.7h0M1097.8 206.5h0M1136.6 185.1h0M1175.5 172.8h0M1214.4 164.1h0M1253.3 160.2h0M1292.2 158.1h0M1331.1 156.5h0M1370.0 155.2h0M1408.9 153.9h0M1447.7 156.4h0M1486.6 154.7h0M1525.5 155.2h0M1564.4 155.1h0M1603.3 155.0h0M1642.2 156.0h0M1681.1 155.0h0M1719.9 155.4h0M1758.8 153.0h0M1797.7 154.8h0M1836.6 155.1h0M1875.5 155.1h0M1914.4 155.3h0M1953.3 155.5h0M1992.1 155.1h0M2031.0 154.6h0M2069.9 155.0h0M2108.8 154.4h0M2147.7 155.0h0M2186.6 154.9h0M281.2 1739.2h0M320.0 1736.1h0M358.9 1735.7h0M397.8 1735.5h0M436.7 1735.0h0M475.6 1734.1h0M514.5 1732.3h0M553.4 1728.8h0M592.2 1722.0h0M631.1 1708.6h0M670.0 1682.9h0M708.9 1634.9h0M747.8 1549.4h0M786.7 1409.4h0M825.6 1194.6h0M864.4 941.2h0M903.3 688.7h0M942.2 503.1h0M981.1 378.4h0M1020.0 299.7h0M1058.9 248.7h0M1097.8 215.2h0M1136.6 191.2h0M1175.5 178.1h0M1214.4 168.3h0M1253.3 162.7h0M1292.2 161.6h0M1331.1 161.0h0M1370.0 160.8h0M1408.9 162.4h0M1447.7 163.5h0M1486.6 164.6h0M1525.5 165.7h0M1564.4 166.9h0M1603.3 168.0h0M1642.2 169.0h0M1681.1 169.9h0M1719.9 170.8h0M1758.8 171.3h0M1797.7 171.8h0M1836.6 172.3h0M1875.5 172.8h0M1914.4 173.1h0M1953.3 172.9h0M1992.1 171.9h0M2031.0 172.4h0M2069.9 173.7h0M2108.8 172.8h0M2147.7 173.1h0M2186.6 172.8h0M281.2 1737.9h0M320.0 1736.1h0M358.9 1735.7h0M397.8 1735.4h0M436.7 1735.0h0M475.6 1734.1h0M514.5 1732.4h0M553.4 1729.0h0M592.2 1722.5h0M631.1 1709.9h0M670.0 1685.7h0M708.9 1640.9h0M747.8 1561.6h0M786.7 1431.8h0M825.6 1240.6h0M864.4 1001.5h0M903.3 762.6h0M942.2 585.2h0M981.1 469.1h0M1020.0 395.2h0M1058.9 348.3h0M1097.8 315.6h0M1136.6 296.1h0M1175.5 282.2h0M1214.4 276.0h0M1253.3 271.0h0M1292.2 268.5h0M1331.1 268.5h0M1370.0 268.5h0M1408.9 270.1h0M1447.7 271.8h0M1486.6 273.3h0M1525.5 274.9h0M1564.4 276.4h0M1603.3 278.0h0M1642.2 279.0h0M1681.1 280.0h0M1719.9 281.0h0M1758.8 281.5h0M1797.7 281.9h0M1836.6 282.7h0M1875.5 283.5h0M1914.4 284.1h0M1953.3 284.6h0M1992.1 284.1h0M2031.0 283.9h0M2069.9 283.6h0M2108.8 284.3h0M2147.7 284.8h0M2186.6 284.7h0M281.2 1739.2h0M320.0 1736.0h0M358.9 1735.6h0M397.8 1735.3h0M436.7 1734.8h0M475.6 1733.7h0M514.5 1731.8h0M553.4 1728.2h0M592.2 1721.4h0M631.1 1708.6h0M670.0 1684.6h0M708.9 1639.8h0M747.8 1557.6h0M786.7 1412.2h0M825.6 1200.2h0M864.4 939.9h0M903.3 692.3h0M942.2 478.9h0M981.1 386.5h0M1020.0 346.6h0M1058.9 329.3h0M1097.8 322.6h0M1136.6 318.1h0M1175.5 315.6h0M1214.4 314.0h0M1253.3 313.1h0M1292.2 312.3h0M1331.1 311.7h0M1370.0 314.0h0M1408.9 312.5h0M1447.7 311.7h0M1486.6 311.4h0M1525.5 311.7h0M1564.4 311.1h0M1603.3 311.6h0M1642.2 311.3h0M1681.1 311.4h0M1719.9 312.0h0M1758.8 311.7h0M1797.7 310.9h0M1836.6 311.3h0M1875.5 310.1h0M1914.4 310.0h0M1953.3 309.6h0M1992.1 310.4h0M2031.0 309.5h0M2069.9 310.7h0M2108.8 310.5h0M2147.7 309.9h0M2186.6 309.8h0M281.2 1738.2h0M320.0 1736.0h0M358.9 1735.6h0M397.8 1735.3h0M436.7 1734.7h0M475.6 1733.7h0M514.5 1731.7h0M553.4 1728.1h0M592.2 1721.4h0M631.1 1708.8h0M670.0 1685.3h0M708.9 1641.6h0M747.8 1560.9h0M786.7 1416.4h0M825.6 1205.7h0M864.4 939.5h0M903.3 695.1h0M942.2 481.7h0M981.1 423.9h0M1020.0 401.3h0M1058.9 389.0h0M1097.8 384.6h0M1136.6 381.2h0M1175.5 380.1h0M1214.4 378.7h0M1253.3 377.9h0M1292.2 377.6h0M1331.1 377.2h0M1370.0 377.3h0M1408.9 377.4h0M1447.7 377.0h0M1486.6 377.1h0M1525.5 376.2h0M1564.4 375.3h0M1603.3 376.1h0M1642.2 376.0h0M1681.1 375.1h0M1719.9 375.0h0M1758.8 374.9h0M1797.7 375.3h0M1836.6 374.5h0M1875.5 373.9h0M1914.4 374.8h0M1953.3 374.1h0M1992.1 374.7h0M2031.0 374.1h0M2069.9 374.2h0M2108.8 373.1h0M2147.7 373.5h0M2186.6 372.6h0M281.2 1738.4h0M320.0 1736.0h0M358.9 1735.5h0M397.8 1735.2h0M436.7 1734.7h0M475.6 1733.6h0M514.5 1731.7h0M553.4 1728.0h0M592.2 1721.4h0M631.1 1708.9h0M670.0 1686.0h0M708.9 1643.3h0M747.8 1564.7h0M786.7 1422.0h0M825.6 1215.5h0M864.4 942.3h0M903.3 697.4h0M942.2 491.4h0M981.1 449.6h0M1020.0 438.1h0M1058.9 432.8h0M1097.8 430.0h0M1136.6 428.4h0M1175.5 427.8h0M1214.4 427.2h0M1253.3 427.0h0M1292.2 427.6h0M1331.1 427.1h0M1370.0 426.8h0M1408.9 425.9h0M1447.7 426.7h0M1486.6 425.2h0M1525.5 425.4h0M1564.4 424.0h0M1603.3 423.7h0M1642.2 423.2h0M1681.1 423.2h0M1719.9 423.4h0M1758.8 422.6h0M1797.7 421.9h0M1836.6 422.8h0M1875.5 421.8h0M1914.4 421.9h0M1953.3 420.7h0M1992.1 421.7h0M2031.0 421.1h0M2069.9 420.4h0M2108.8 420.2h0M2147.7 420.9h0M2186.6 419.7h0M281.2 1739.2h0M320.0 1736.1h0M358.9 1735.7h0M397.8 1735.5h0M436.7 1735.0h0M475.6 1734.2h0M514.5 1732.6h0M553.4 1729.3h0M592.2 1723.0h0M631.1 1710.8h0M670.0 1687.4h0M708.9 1643.8h0M747.8 1566.7h0M786.7 1442.9h0M825.6 1261.5h0M864.4 1021.6h0M903.3 863.1h0M942.2 724.4h0M981.1 642.1h0M1020.0 593.8h0M1058.9 560.6h0M1097.8 545.3h0M1136.6 533.6h0M1175.5 528.0h0M1214.4 523.8h0M1253.3 522.4h0M1292.2 520.7h0M1331.1 520.2h0M1370.0 520.4h0M1408.9 519.6h0M1447.7 520.4h0M1486.6 519.0h0M1525.5 518.5h0M1564.4 519.3h0M1603.3 518.6h0M1642.2 518.6h0M1681.1 518.8h0M1719.9 518.9h0M1758.8 519.4h0M1797.7 517.3h0M1836.6 518.0h0M1875.5 516.4h0M1914.4 517.2h0M1953.3 517.3h0M1992.1 517.7h0M2031.0 516.4h0M2069.9 517.3h0M2108.8 516.0h0M2147.7 516.9h0M2186.6 516.5h0M281.2 1738.8h0M320.0 1736.0h0M358.9 1735.6h0M397.8 1735.4h0M436.7 1735.0h0M475.6 1734.1h0M514.5 1732.4h0M553.4 1729.1h0M592.2 1722.8h0M631.1 1710.9h0M670.0 1688.2h0M708.9 1646.0h0M747.8 1570.5h0M786.7 1444.9h0M825.6 1264.3h0M864.4 1055.1h0M903.3 869.8h0M942.2 735.0h0M981.1 645.7h0M1020.0 601.4h0M1058.9 582.1h0M1097.8 572.6h0M1136.6 568.2h0M1175.5 565.6h0M1214.4 562.0h0M1253.3 562.0h0M1292.2 561.5h0M1331.1 560.6h0M1370.0 561.1h0M1408.9 560.8h0M1447.7 560.7h0M1486.6 560.0h0M1525.5 560.2h0M1564.4 560.0h0M1603.3 559.5h0M1642.2 559.4h0M1681.1 559.5h0M1719.9 559.9h0M1758.8 560.0h0M1797.7 560.0h0M1836.6 559.6h0M1875.5 559.4h0M1914.4 559.8h0M1953.3 559.8h0M1992.1 558.9h0M2031.0 560.0h0M2069.9 559.0h0M2108.8 558.6h0M2147.7 559.3h0M2186.6 558.7h0M281.2 1738.1h0M320.0 1736.0h0M358.9 1735.6h0M397.8 1735.3h0M436.7 1734.8h0M475.6 1733.8h0M514.5 1732.0h0M553.4 1728.6h0M592.2 1722.2h0M631.1 1710.1h0M670.0 1687.5h0M708.9 1645.4h0M747.8 1568.7h0M786.7 1435.7h0M825.6 1243.4h0M864.4 1013.5h0M903.3 819.3h0M942.2 683.4h0M981.1 630.9h0M1020.0 615.6h0M1058.9 606.9h0M1097.8 601.9h0M1136.6 600.0h0M1175.5 597.7h0M1214.4 596.9h0M1253.3 595.8h0M1292.2 595.5h0M1331.1 595.2h0M1370.0 595.0h0M1408.9 594.0h0M1447.7 593.9h0M1486.6 594.6h0M1525.5 594.3h0M1564.4 594.2h0M1603.3 593.4h0M1642.2 593.5h0M1681.1 592.9h0M1719.9 594.1h0M1758.8 592.0h0M1797.7 592.7h0M1836.6 592.0h0M1875.5 592.3h0M1914.4 592.2h0M1953.3 591.5h0M1992.1 591.1h0M2031.0 591.5h0M2069.9 591.2h0M2108.8 590.5h0M2147.7 591.2h0M2186.6 590.5h0" stroke="#F564E3" stroke-width="8.1" stroke-linecap="round" fill="none"/>
<path d="M281.2 1738.6h0M320.0 1736.2h0M358.9 1735.9h0M397.8 1735.8h0M436.7 1735.8h0M475.6 1735.7h0M514.5 1735.5h0M553.4 1735.1h0M592.2 1734.4h0M631.1 1733.0h0M670.0 1730.3h0M708.9 1725.1h0M747.8 1715.3h0M786.7 1696.4h0M825.6 1661.0h0M864.4 1595.5h0M903.3 1480.2h0M942.2 1294.2h0M981.1 1041.1h0M1020.0 768.2h0M1058.9 538.9h0M1097.8 384.8h0M1136.6 298.1h0M1175.5 259.6h0M1214.4 243.6h0M1253.3 234.7h0M1292.2 230.0h0M1331.1 227.7h0M1370.0 225.5h0M1408.9 225.0h0M1447.7 224.1h0M1486.6 224.1h0M1525.5 224.0h0M1564.4 223.3h0M1603.3 224.8h0M1642.2 224.4h0M1681.1 224.6h0M1719.9 223.8h0M1758.8 223.1h0M1797.7 223.6h0M1836.6 223.2h0M1875.5 224.4h0M1914.4 223.1h0M1953.3 223.6h0M1992.1 222.0h0M2031.0 222.4h0M2069.9 222.2h0M2108.8 222.7h0M2147.7 222.2h0M2186.6 222.4h0M281.2 1738.2h0M320.0 1736.2h0M358.9 1735.9h0M397.8 1735.8h0M436.7 1735.8h0M475.6 1735.7h0M514.5 1735.5h0M553.4 1735.2h0M592.2 1734.5h0M631.1 1733.2h0M670.0 1730.6h0M708.9 1725.6h0M747.8 1715.9h0M786.7 1697.4h0M825.6 1662.2h0M864.4 1597.2h0M903.3 1483.0h0M942.2 1300.6h0M981.1 1052.3h0M1020.0 786.1h0M1058.9 562.0h0M1097.8 418.0h0M1136.6 325.7h0M1175.5 282.2h0M1214.4 265.4h0M1253.3 256.5h0M1292.2 250.9h0M1331.1 247.3h0M1370.0 244.8h0M1408.9 243.1h0M1447.7 245.5h0M1486.6 243.0h0M1525.5 243.3h0M1564.4 242.5h0M1603.3 242.9h0M1642.2 241.9h0M1681.1 242.8h0M1719.9 243.0h0M1758.8 242.2h0M1797.7 242.2h0M1836.6 242.5h0M1875.5 242.3h0M1914.4 241.6h0M1953.3 241.5h0M1992.1 242.1h0M2031.0 241.9h0M2069.9 242.5h0M2108.8 240.5h0M2147.7 241.4h0M2186.6 241.1h0M281.2 1738.3h0M320.0 1736.2h0M358.9 1735.9h0M397.8 1735.9h0M436.7 1735.8h0M475.6 1735.8h0M514.5 1735.6h0M553.4 1735.4h0M592.2 1734.9h0M631.1 1733.9h0M670.0 1731.8h0M708.9 1727.5h0M747.8 1718.9h0M786.7 1701.9h0M825.6 1668.8h0M864.4 1607.2h0M903.3 1500.5h0M942.2 1336.9h0M981.1 1113.7h0M1020.0 857.5h0M1058.9 651.9h0M1097.8 510.4h0M1136.6 419.4h0M1175.5 362.5h0M1214.4 325.7h0M1253.3 302.2h0M1292.2 289.1h0M1331.1 280.2h0M1370.0 275.5h0M1408.9 273.9h0M1447.7 274.4h0M1486.6 274.5h0M1525.5 275.3h0M1564.4 274.0h0M1603.3 273.3h0M1642.2 274.1h0M1681.1 274.1h0M1719.9 274.0h0M1758.8 275.3h0M1797.7 273.5h0M1836.6 275.7h0M1875.5 275.2h0M1914.4 274.1h0M1953.3 275.9h0M1992.1 276.0h0M2031.0 276.5h0M2069.9 276.3h0M2108.8 277.9h0M2147.7 277.3h0M2186.6 277.1h0M281.2 1739.3h0M320.0 1736.2h0M358.9 1735.9h0M397.8 1735.8h0M436.7 1735.8h0M475.6 1735.6h0M514.5 1735.4h0M553.4 1735.0h0M592.2 1734.2h0M631.1 1732.7h0M670.0 1730.0h0M708.9 1724.9h0M747.8 1715.5h0M786.7 1698.0h0M825.6 1665.4h0M864.4 1605.1h0M903.3 1495.1h0M942.2 1303.4h0M981.1 1055.1h0M1020.0 790.0h0M1058.9 562.3h0M1097.8 519.3h0M1136.6 501.5h0M1175.5 491.7h0M1214.4 486.7h0M1253.3 483.9h0M1292.2 481.9h0M1331.1 480.5h0M1370.0 480.3h0M1408.9 480.9h0M1447.7 480.4h0M1486.6 479.4h0M1525.5 479.8h0M1564.4 479.0h0M1603.3 478.6h0M1642.2 479.7h0M1681.1 478.1h0M1719.9 478.8h0M1758.8 477.1h0M1797.7 477.7h0M1836.6 478.2h0M1875.5 477.6h0M1914.4 477.4h0M1953.3 477.1h0M1992.1 476.3h0M2031.0 476.6h0M2069.9 475.7h0M2108.8 476.1h0M2147.7 476.4h0M2186.6 476.1h0M281.2 1738.3h0M320.0 1736.2h0M358.9 1735.9h0M397.8 1735.8h0M436.7 1735.8h0M475.6 1735.6h0M514.5 1735.4h0M553.4 1735.0h0M592.2 1734.2h0M631.1 1732.8h0M670.0 1730.1h0M708.9 1725.2h0M747.8 1716.0h0M786.7 1699.0h0M825.6 1667.3h0M864.4 1608.7h0M903.3 1501.2h0M942.2 1311.8h0M981.1 1066.2h0M1020.0 799.5h0M1058.9 573.7h0M1097.8 528.5h0M1136.6 508.4h0M1175.5 504.5h0M1214.4 502.6h0M1253.3 501.5h0M1292.2 500.4h0M1331.1 500.4h0M1370.0 499.2h0M1408.9 499.3h0M1447.7 498.4h0M1486.6 497.9h0M1525.5 497.7h0M1564.4 497.0h0M1603.3 498.0h0M1642.2 497.3h0M1681.1 497.5h0M1719.9 497.9h0M1758.8 497.2h0M1797.7 496.5h0M1836.6 496.9h0M1875.5 496.2h0M1914.4 495.3h0M1953.3 495.3h0M1992.1 495.1h0M2031.0 495.0h0M2069.9 495.0h0M2108.8 495.7h0M2147.7 493.9h0M2186.6 494.2h0M281.2 1737.8h0M320.0 1736.2h0M358.9 1735.9h0M397.8 1735.8h0M436.7 1735.8h0M475.6 1735.7h0M514.5 1735.5h0M553.4 1735.1h0M592.2 1734.4h0M631.1 1733.2h0M670.0 1730.8h0M708.9 1726.4h0M747.8 1718.0h0M786.7 1702.3h0M825.6 1672.9h0M864.4 1617.8h0M903.3 1516.2h0M942.2 1336.9h0M981.1 1113.7h0M1020.0 857.0h0M1058.9 643.8h0M1097.8 531.0h0M1136.6 519.3h0M1175.5 515.4h0M1214.4 513.5h0M1253.3 512.1h0M1292.2 511.5h0M1331.1 511.8h0M1370.0 509.3h0M1408.9 508.3h0M1447.7 508.4h0M1486.6 508.6h0M1525.5 508.7h0M1564.4 508.7h0M1603.3 507.3h0M1642.2 507.5h0M1681.1 507.2h0M1719.9 506.5h0M1758.8 506.1h0M1797.7 507.0h0M1836.6 504.9h0M1875.5 506.3h0M1914.4 503.8h0M1953.3 504.2h0M1992.1 504.4h0M2031.0 503.1h0M2069.9 503.5h0M2108.8 502.8h0M2147.7 502.8h0M2186.6 502.6h0M281.2 1738.8h0M320.0 1736.2h0M358.9 1735.9h0M397.8 1735.9h0M436.7 1735.8h0M475.6 1735.8h0M514.5 1735.7h0M553.4 1735.4h0M592.2 1735.0h0M631.1 1734.0h0M670.0 1732.0h0M708.9 1728.0h0M747.8 1720.0h0M786.7 1704.0h0M825.6 1672.9h0M864.4 1614.5h0M903.3 1512.6h0M942.2 1356.4h0M981.1 1141.6h0M1020.0 932.3h0M1058.9 755.9h0M1097.8 655.2h0M1136.6 592.4h0M1175.5 552.8h0M1214.4 530.8h0M1253.3 517.7h0M1292.2 512.6h0M1331.1 508.2h0M1370.0 507.3h0M1408.9 507.1h0M1447.7 505.8h0M1486.6 506.6h0M1525.5 504.7h0M1564.4 505.3h0M1603.3 505.9h0M1642.2 505.4h0M1681.1 504.7h0M1719.9 504.0h0M1758.8 506.1h0M1797.7 504.9h0M1836.6 505.2h0M1875.5 505.6h0M1914.4 504.8h0M1953.3 505.1h0M1992.1 504.7h0M2031.0 505.5h0M2069.9 505.2h0M2108.8 505.0h0M2147.7 505.1h0M2186.6 505.1h0M281.2 1737.7h0M320.0 1736.2h0M358.9 1735.9h0M397.8 1735.9h0M436.7 1735.8h0M475.6 1735.8h0M514.5 1735.6h0M553.4 1735.4h0M592.2 1734.9h0M631.1 1733.9h0M670.0 1731.9h0M708.9 1727.9h0M747.8 1720.1h0M786.7 1704.7h0M825.6 1674.8h0M864.4 1618.5h0M903.3 1519.1h0M942.2 1362.0h0M981.1 1152.7h0M1020.0 946.2h0M1058.9 772.1h0M1097.8 660.2h0M1136.6 611.7h0M1175.5 580.7h0M1214.4 565.6h0M1253.3 558.1h0M1292.2 553.4h0M1331.1 551.4h0M1370.0 548.9h0M1408.9 548.8h0M1447.7 547.8h0M1486.6 548.1h0M1525.5 548.6h0M1564.4 547.8h0M1603.3 549.0h0M1642.2 547.8h0M1681.1 548.4h0M1719.9 547.7h0M1758.8 547.8h0M1797.7 548.5h0M1836.6 547.7h0M1875.5 547.8h0M1914.4 548.3h0M1953.3 546.8h0M1992.1 547.5h0M2031.0 548.5h0M2069.9 548.4h0M2108.8 547.7h0M2147.7 547.7h0M2186.6 547.8h0M281.2 1739.1h0M320.0 1736.2h0M358.9 1735.9h0M397.8 1735.9h0M436.7 1735.8h0M475.6 1735.8h0M514.5 1735.6h0M553.4 1735.4h0M592.2 1734.8h0M631.1 1733.8h0M670.0 1731.8h0M708.9 1727.9h0M747.8 1720.2h0M786.7 1705.3h0M825.6 1676.4h0M864.4 1622.0h0M903.3 1524.8h0M942.2 1367.6h0M981.1 1161.1h0M1020.0 957.4h0M1058.9 785.0h0M1097.8 675.0h0M1136.6 617.8h0M1175.5 603.9h0M1214.4 595.8h0M1253.3 592.2h0M1292.2 589.9h0M1331.1 587.7h0M1370.0 587.4h0M1408.9 586.3h0M1447.7 586.0h0M1486.6 586.5h0M1525.5 586.4h0M1564.4 586.8h0M1603.3 587.0h0M1642.2 586.9h0M1681.1 586.9h0M1719.9 585.7h0M1758.8 586.2h0M1797.7 586.0h0M1836.6 586.4h0M1875.5 586.6h0M1914.4 586.6h0M1953.3 586.3h0M1992.1 585.5h0M2031.0 585.7h0M2069.9 585.9h0M2108.8 585.7h0M2147.7 586.3h0M2186.6 585.5h0M281.2 1738.9h0M320.0 1736.2h0M358.9 1735.9h0M397.8 1735.9h0M436.7 1735.8h0M475.6 1735.8h0M514.5 1735.6h0M553.4 1735.3h0M592.2 1734.8h0M631.1 1733.8h0M670.0 1731.8h0M708.9 1727.9h0M747.8 1720.4h0M786.7 1706.0h0M825.6 1678.2h0M864.4 1625.7h0M903.3 1530.5h0M942.2 1373.2h0M981.1 1169.5h0M1020.0 965.8h0M1058.9 793.9h0M1097.8 701.0h0M1136.6 675.0h0M1175.5 666.1h0M1214.4 660.0h0M1253.3 652.4h0M1292.2 649.4h0M1331.1 648.0h0M1370.0 647.5h0M1408.9 646.6h0M1447.7 648.3h0M1486.6 646.2h0M1525.5 647.0h0M1564.4 647.3h0M1603.3 647.2h0M1642.2 647.2h0M1681.1 646.5h0M1719.9 645.8h0M1758.8 645.8h0M1797.7 645.6h0M1836.6 646.8h0M1875.5 646.6h0M1914.4 644.7h0M1953.3 644.9h0M1992.1 644.1h0M2031.0 644.5h0M2069.9 645.6h0M2108.8 644.2h0M2147.7 644.4h0M2186.6 644.6h0M281.2 1737.9h0M320.0 1736.2h0M358.9 1735.9h0M397.8 1735.9h0M436.7 1735.8h0M475.6 1735.8h0M514.5 1735.6h0M553.4 1735.3h0M592.2 1734.8h0M631.1 1733.8h0M670.0 1731.9h0M708.9 1728.1h0M747.8 1720.7h0M786.7 1706.5h0M825.6 1679.1h0M864.4 1627.3h0M903.3 1533.0h0M942.2 1376.0h0M981.1 1177.8h0M1020.0 968.6h0M1058.9 797.0h0M1097.8 708.0h0M1136.6 684.2h0M1175.5 669.2h0M1214.4 661.6h0M1253.3 656.9h0M1292.2 654.7h0M1331.1 655.5h0M1370.0 655.9h0M1408.9 655.5h0M1447.7 655.3h0M1486.6 654.7h0M1525.5 653.3h0M1564.4 654.8h0M1603.3 653.2h0M1642.2 652.8h0M1681.1 653.5h0M1719.9 653.5h0M1758.8 652.6h0M1797.7 652.0h0M1836.6 651.2h0M1875.5 651.7h0M1914.4 651.1h0M1953.3 652.0h0M1992.1 652.0h0M2031.0 652.3h0M2069.9 651.8h0M2108.8 651.1h0M2147.7 650.6h0M2186.6 650.5h0M281.2 1738.7h0M320.0 1736.2h0M358.9 1735.9h0M397.8 1735.9h0M436.7 1735.9h0M475.6 1735.8h0M514.5 1735.8h0M553.4 1735.6h0M592.2 1735.3h0M631.1 1734.6h0M670.0 1733.2h0M708.9 1730.4h0M747.8 1724.6h0M786.7 1712.4h0M825.6 1687.0h0M864.4 1633.2h0M903.3 1551.7h0M942.2 1415.0h0M981.1 1230.9h0M1020.0 1032.7h0M1058.9 867.8h0M1097.8 757.3h0M1136.6 696.2h0M1175.5 675.6h0M1214.4 670.0h0M1253.3 665.8h0M1292.2 664.1h0M1331.1 662.8h0M1370.0 661.7h0M1408.9 661.5h0M1447.7 661.3h0M1486.6 662.3h0M1525.5 660.6h0M1564.4 661.8h0M1603.3 659.9h0M1642.2 659.9h0M1681.1 659.5h0M1719.9 659.3h0M1758.8 659.5h0M1797.7 659.7h0M1836.6 659.4h0M1875.5 658.2h0M1914.4 659.2h0M1953.3 658.8h0M1992.1 658.8h0M2031.0 658.5h0M2069.9 658.2h0M2108.8 657.7h0M2147.7 657.8h0M2186.6 657.4h0" stroke="#619CFF" stroke-width="8.1" stroke-linecap="round" fill="none"/>
<path d="M281.2 1738.2h0M320.0 1736.2h0M358.9 1735.9h0M397.8 1735.9h0M436.7 1735.9h0M475.6 1735.9h0M514.5 1735.9h0M553.4 1735.8h0M592.2 1735.8h0M631.1 1735.7h0M670.0 1735.5h0M708.9 1735.1h0M747.8 1734.2h0M786.7 1732.6h0M825.6 1729.2h0M864.4 1722.5h0M903.3 1709.4h0M942.2 1684.1h0M981.1 1636.7h0M1020.0 1553.2h0M1058.9 1420.6h0M1097.8 1214.1h0M1136.6 959.1h0M1175.5 695.1h0M1214.4 538.9h0M1253.3 423.3h0M1292.2 347.4h0M1331.1 300.0h0M1370.0 270.7h0M1408.9 252.6h0M1447.7 241.7h0M1486.6 234.2h0M1525.5 231.1h0M1564.4 228.6h0M1603.3 227.2h0M1642.2 226.3h0M1681.1 227.0h0M1719.9 227.9h0M1758.8 227.5h0M1797.7 227.8h0M1836.6 227.9h0M1875.5 227.6h0M1914.4 228.8h0M1953.3 227.8h0M1992.1 229.1h0M2031.0 228.8h0M2069.9 228.4h0M2108.8 228.7h0M2147.7 229.6h0M2186.6 229.4h0M281.2 1737.7h0M320.0 1736.2h0M358.9 1735.9h0M397.8 1735.9h0M436.7 1735.9h0M475.6 1735.9h0M514.5 1735.9h0M553.4 1735.8h0M592.2 1735.8h0M631.1 1735.6h0M670.0 1735.4h0M708.9 1735.0h0M747.8 1734.1h0M786.7 1732.4h0M825.6 1729.0h0M864.4 1722.4h0M903.3 1709.6h0M942.2 1685.2h0M981.1 1639.4h0M1020.0 1557.7h0M1058.9 1423.4h0M1097.8 1219.7h0M1136.6 960.2h0M1175.5 720.2h0M1214.4 541.9h0M1253.3 424.5h0M1292.2 351.6h0M1331.1 313.1h0M1370.0 293.9h0M1408.9 282.2h0M1447.7 275.5h0M1486.6 272.4h0M1525.5 271.6h0M1564.4 269.9h0M1603.3 268.8h0M1642.2 268.5h0M1681.1 268.6h0M1719.9 268.9h0M1758.8 269.9h0M1797.7 268.6h0M1836.6 268.2h0M1875.5 268.1h0M1914.4 269.1h0M1953.3 267.6h0M1992.1 267.8h0M2031.0 269.0h0M2069.9 269.0h0M2108.8 268.4h0M2147.7 269.2h0M2186.6 269.0h0M281.2 1738.4h0M320.0 1736.2h0M358.9 1735.9h0M397.8 1735.9h0M436.7 1735.9h0M475.6 1735.9h0M514.5 1735.9h0M553.4 1735.8h0M592.2 1735.8h0M631.1 1735.7h0M670.0 1735.5h0M708.9 1735.1h0M747.8 1734.4h0M786.7 1732.8h0M825.6 1729.7h0M864.4 1723.4h0M903.3 1711.0h0M942.2 1686.7h0M981.1 1640.9h0M1020.0 1560.0h0M1058.9 1431.8h0M1097.8 1228.1h0M1136.6 970.0h0M1175.5 736.1h0M1214.4 569.0h0M1253.3 459.1h0M1292.2 384.3h0M1331.1 339.4h0M1370.0 310.6h0M1408.9 293.9h0M1447.7 282.2h0M1486.6 275.5h0M1525.5 272.4h0M1564.4 271.0h0M1603.3 269.6h0M1642.2 270.5h0M1681.1 271.1h0M1719.9 268.9h0M1758.8 268.7h0M1797.7 269.0h0M1836.6 270.1h0M1875.5 270.0h0M1914.4 270.2h0M1953.3 269.5h0M1992.1 269.8h0M2031.0 270.4h0M2069.9 270.2h0M2108.8 270.0h0M2147.7 270.7h0M2186.6 271.0h0M281.2 1739.6h0M320.0 1736.2h0M358.9 1735.9h0M397.8 1735.9h0M436.7 1735.9h0M475.6 1735.9h0M514.5 1735.8h0M553.4 1735.8h0M592.2 1735.7h0M631.1 1735.5h0M670.0 1735.2h0M708.9 1734.6h0M747.8 1733.6h0M786.7 1731.6h0M825.6 1728.0h0M864.4 1721.3h0M903.3 1708.9h0M942.2 1686.0h0M981.1 1643.5h0M1020.0 1564.9h0M1058.9 1422.0h0M1097.8 1216.9h0M1136.6 959.1h0M1175.5 703.5h0M1214.4 523.0h0M1253.3 484.2h0M1292.2 469.9h0M1331.1 463.8h0M1370.0 459.6h0M1408.9 457.7h0M1447.7 455.7h0M1486.6 454.6h0M1525.5 453.8h0M1564.4 453.6h0M1603.3 453.5h0M1642.2 452.6h0M1681.1 452.6h0M1719.9 452.3h0M1758.8 453.3h0M1797.7 452.0h0M1836.6 452.3h0M1875.5 452.1h0M1914.4 451.2h0M1953.3 451.9h0M1992.1 452.1h0M2031.0 451.5h0M2069.9 451.7h0M2108.8 451.8h0M2147.7 450.7h0M2186.6 450.4h0M281.2 1738.9h0M320.0 1736.2h0M358.9 1735.9h0M397.8 1735.9h0M436.7 1735.9h0M475.6 1735.9h0M514.5 1735.8h0M553.4 1735.8h0M592.2 1735.7h0M631.1 1735.6h0M670.0 1735.3h0M708.9 1734.8h0M747.8 1733.8h0M786.7 1731.9h0M825.6 1728.5h0M864.4 1722.1h0M903.3 1710.3h0M942.2 1688.2h0M981.1 1647.1h0M1020.0 1571.3h0M1058.9 1434.5h0M1097.8 1233.6h0M1136.6 970.0h0M1175.5 726.1h0M1214.4 569.6h0M1253.3 523.0h0M1292.2 508.7h0M1331.1 502.0h0M1370.0 497.6h0M1408.9 495.3h0M1447.7 493.9h0M1486.6 493.1h0M1525.5 492.3h0M1564.4 491.8h0M1603.3 491.4h0M1642.2 491.8h0M1681.1 490.9h0M1719.9 490.8h0M1758.8 490.8h0M1797.7 490.1h0M1836.6 489.4h0M1875.5 489.8h0M1914.4 490.1h0M1953.3 489.0h0M1992.1 489.3h0M2031.0 488.2h0M2069.9 488.7h0M2108.8 487.9h0M2147.7 488.7h0M2186.6 487.8h0M281.2 1738.9h0M320.0 1736.2h0M358.9 1735.9h0M397.8 1735.9h0M436.7 1735.9h0M475.6 1735.9h0M514.5 1735.8h0M553.4 1735.8h0M592.2 1735.7h0M631.1 1735.6h0M670.0 1735.3h0M708.9 1734.8h0M747.8 1733.8h0M786.7 1732.0h0M825.6 1728.7h0M864.4 1722.5h0M903.3 1710.8h0M942.2 1689.2h0M981.1 1648.8h0M1020.0 1573.9h0M1058.9 1437.3h0M1097.8 1239.2h0M1136.6 984.8h0M1175.5 750.1h0M1214.4 575.1h0M1253.3 537.7h0M1292.2 524.9h0M1331.1 519.3h0M1370.0 514.9h0M1408.9 513.7h0M1447.7 512.9h0M1486.6 512.2h0M1525.5 511.6h0M1564.4 511.0h0M1603.3 510.4h0M1642.2 510.3h0M1681.1 509.8h0M1719.9 509.7h0M1758.8 509.5h0M1797.7 509.1h0M1836.6 508.9h0M1875.5 508.4h0M1914.4 508.3h0M1953.3 507.7h0M1992.1 508.2h0M2031.0 507.7h0M2069.9 507.7h0M2108.8 507.9h0M2147.7 508.0h0M2186.6 506.5h0M281.2 1738.5h0M320.0 1736.2h0M358.9 1735.9h0M397.8 1735.9h0M436.7 1735.9h0M475.6 1735.9h0M514.5 1735.9h0M553.4 1735.8h0M592.2 1735.8h0M631.1 1735.7h0M670.0 1735.5h0M708.9 1735.0h0M747.8 1734.3h0M786.7 1732.8h0M825.6 1729.9h0M864.4 1724.4h0M903.3 1714.0h0M942.2 1694.1h0M981.1 1656.3h0M1020.0 1586.1h0M1058.9 1461.1h0M1097.8 1283.9h0M1136.6 1068.5h0M1175.5 868.1h0M1214.4 727.2h0M1253.3 670.3h0M1292.2 656.1h0M1331.1 646.8h0M1370.0 639.0h0M1408.9 634.3h0M1447.7 631.8h0M1486.6 630.1h0M1525.5 628.9h0M1564.4 629.1h0M1603.3 629.9h0M1642.2 629.2h0M1681.1 629.1h0M1719.9 627.4h0M1758.8 629.0h0M1797.7 627.5h0M1836.6 628.0h0M1875.5 627.3h0M1914.4 627.6h0M1953.3 627.2h0M1992.1 627.0h0M2031.0 627.0h0M2069.9 626.4h0M2108.8 626.4h0M2147.7 625.7h0M2186.6 626.2h0M281.2 1738.1h0M320.0 1736.2h0M358.9 1735.9h0M397.8 1735.9h0M436.7 1735.9h0M475.6 1735.9h0M514.5 1735.9h0M553.4 1735.8h0M592.2 1735.8h0M631.1 1735.7h0M670.0 1735.5h0M708.9 1735.1h0M747.8 1734.3h0M786.7 1732.9h0M825.6 1730.1h0M864.4 1724.8h0M903.3 1714.7h0M942.2 1695.3h0M981.1 1658.6h0M1020.0 1590.1h0M1058.9 1468.0h0M1097.8 1300.6h0M1136.6 1090.8h0M1175.5 898.8h0M1214.4 747.6h0M1253.3 685.1h0M1292.2 660.8h0M1331.1 651.9h0M1370.0 646.0h0M1408.9 643.5h0M1447.7 641.7h0M1486.6 640.4h0M1525.5 639.4h0M1564.4 638.5h0M1603.3 638.6h0M1642.2 638.2h0M1681.1 638.0h0M1719.9 638.8h0M1758.8 637.8h0M1797.7 638.1h0M1836.6 637.8h0M1875.5 638.0h0M1914.4 637.5h0M1953.3 638.6h0M1992.1 637.1h0M2031.0 637.4h0M2069.9 638.3h0M2108.8 637.6h0M2147.7 637.7h0M2186.6 637.9h0M281.2 1738.8h0M320.0 1736.2h0M358.9 1735.9h0M397.8 1735.9h0M436.7 1735.9h0M475.6 1735.9h0M514.5 1735.9h0M553.4 1735.8h0M592.2 1735.8h0M631.1 1735.7h0M670.0 1735.5h0M708.9 1735.1h0M747.8 1734.4h0M786.7 1733.0h0M825.6 1730.3h0M864.4 1725.2h0M903.3 1715.3h0M942.2 1696.5h0M981.1 1661.0h0M1020.0 1595.9h0M1058.9 1483.1h0M1097.8 1309.0h0M1136.6 1103.1h0M1175.5 907.2h0M1214.4 773.8h0M1253.3 694.0h0M1292.2 668.1h0M1331.1 658.0h0M1370.0 650.5h0M1408.9 647.7h0M1447.7 646.0h0M1486.6 644.9h0M1525.5 643.9h0M1564.4 643.7h0M1603.3 643.9h0M1642.2 643.2h0M1681.1 643.7h0M1719.9 644.1h0M1758.8 641.9h0M1797.7 642.4h0M1836.6 643.5h0M1875.5 642.7h0M1914.4 642.2h0M1953.3 641.4h0M1992.1 640.7h0M2031.0 641.0h0M2069.9 641.1h0M2108.8 640.4h0M2147.7 640.5h0M2186.6 640.1h0M281.2 1738.1h0M320.0 1736.2h0M358.9 1735.9h0M397.8 1735.9h0M436.7 1735.9h0M475.6 1735.9h0M514.5 1735.9h0M553.4 1735.8h0M592.2 1735.8h0M631.1 1735.7h0M670.0 1735.5h0M708.9 1735.2h0M747.8 1734.5h0M786.7 1733.2h0M825.6 1730.7h0M864.4 1725.7h0M903.3 1716.0h0M942.2 1697.5h0M981.1 1662.4h0M1020.0 1598.6h0M1058.9 1490.4h0M1097.8 1325.7h0M1136.6 1127.3h0M1175.5 949.0h0M1214.4 812.0h0M1253.3 723.6h0M1292.2 678.7h0M1331.1 664.4h0M1370.0 655.2h0M1408.9 652.4h0M1447.7 650.9h0M1486.6 650.5h0M1525.5 649.9h0M1564.4 650.2h0M1603.3 649.5h0M1642.2 649.8h0M1681.1 650.8h0M1719.9 649.4h0M1758.8 650.0h0M1797.7 649.7h0M1836.6 649.0h0M1875.5 649.9h0M1914.4 650.8h0M1953.3 650.6h0M1992.1 649.7h0M2031.0 651.1h0M2069.9 650.2h0M2108.8 650.2h0M2147.7 651.1h0M2186.6 650.5h0M281.2 1737.9h0M320.0 1736.2h0M358.9 1735.9h0M397.8 1735.9h0M436.7 1735.9h0M475.6 1735.9h0M514.5 1735.9h0M553.4 1735.8h0M592.2 1735.8h0M631.1 1735.7h0M670.0 1735.5h0M708.9 1735.2h0M747.8 1734.5h0M786.7 1733.2h0M825.6 1730.7h0M864.4 1725.9h0M903.3 1716.5h0M942.2 1698.4h0M981.1 1664.2h0M1020.0 1601.9h0M1058.9 1495.9h0M1097.8 1334.1h0M1136.6 1138.5h0M1175.5 954.6h0M1214.4 820.4h0M1253.3 740.0h0M1292.2 701.8h0M1331.1 684.8h0M1370.0 675.9h0M1408.9 668.9h0M1447.7 666.1h0M1486.6 665.3h0M1525.5 664.7h0M1564.4 665.0h0M1603.3 662.5h0M1642.2 663.4h0M1681.1 663.1h0M1719.9 663.3h0M1758.8 662.9h0M1797.7 662.6h0M1836.6 662.4h0M1875.5 662.7h0M1914.4 661.7h0M1953.3 661.6h0M1992.1 661.7h0M2031.0 661.8h0M2069.9 661.7h0M2108.8 661.5h0M2147.7 660.6h0M2186.6 660.5h0M281.2 1738.8h0M320.0 1736.2h0M358.9 1735.9h0M397.8 1735.9h0M436.7 1735.9h0M475.6 1735.9h0M514.5 1735.9h0M553.4 1735.8h0M592.2 1735.8h0M631.1 1735.7h0M670.0 1735.5h0M708.9 1735.2h0M747.8 1734.6h0M786.7 1733.3h0M825.6 1730.8h0M864.4 1726.1h0M903.3 1716.8h0M942.2 1699.2h0M981.1 1665.7h0M1020.0 1604.4h0M1058.9 1498.7h0M1097.8 1339.7h0M1136.6 1143.2h0M1175.5 957.4h0M1214.4 826.0h0M1253.3 747.0h0M1292.2 711.9h0M1331.1 697.6h0M1370.0 690.1h0M1408.9 685.6h0M1447.7 682.0h0M1486.6 681.2h0M1525.5 679.8h0M1564.4 678.7h0M1603.3 678.4h0M1642.2 679.0h0M1681.1 678.0h0M1719.9 677.9h0M1758.8 678.2h0M1797.7 677.8h0M1836.6 678.7h0M1875.5 679.5h0M1914.4 678.8h0M1953.3 678.6h0M1992.1 678.7h0M2031.0 679.3h0M2069.9 680.2h0M2108.8 677.9h0M2147.7 679.2h0M2186.6 679.2h0" stroke="#00BFC4" stroke-width="8.1" stroke-linecap="round" fill="none"/>
<path d="M281.2 1739.1h0M320.0 1736.2h0M358.9 1735.9h0M397.8 1735.9h0M436.7 1735.9h0M475.6 1735.9h0M514.5 1735.9h0M553.4 1735.9h0M592.2 1735.9h0M631.1 1735.9h0M670.0 1735.9h0M708.9 1735.8h0M747.8 1735.8h0M786.7 1735.6h0M825.6 1735.4h0M864.4 1734.8h0M903.3 1733.7h0M942.2 1731.5h0M981.1 1727.1h0M1020.0 1718.4h0M1058.9 1701.3h0M1097.8 1668.6h0M1136.6 1608.5h0M1175.5 1505.3h0M1214.4 1346.0h0M1253.3 1134.0h0M1292.2 883.2h0M1331.1 675.0h0M1370.0 521.0h0M1408.9 428.6h0M1447.7 363.1h0M1486.6 320.4h0M1525.5 291.9h0M1564.4 269.9h0M1603.3 255.6h0M1642.2 247.3h0M1681.1 243.4h0M1719.9 242.7h0M1758.8 241.4h0M1797.7 240.9h0M1836.6 240.4h0M1875.5 239.4h0M1914.4 239.6h0M1953.3 239.3h0M1992.1 239.2h0M2031.0 239.5h0M2069.9 238.7h0M2108.8 238.1h0M2147.7 238.2h0M2186.6 238.1h0M281.2 1738.4h0M320.0 1736.2h0M358.9 1735.9h0M397.8 1735.9h0M436.7 1735.9h0M475.6 1735.9h0M514.5 1735.9h0M553.4 1735.9h0M592.2 1735.9h0M631.1 1735.9h0M670.0 1735.9h0M708.9 1735.8h0M747.8 1735.8h0M786.7 1735.6h0M825.6 1735.3h0M864.4 1734.8h0M903.3 1733.7h0M942.2 1731.5h0M981.1 1727.2h0M1020.0 1718.6h0M1058.9 1701.8h0M1097.8 1669.7h0M1136.6 1610.9h0M1175.5 1509.7h0M1214.4 1353.3h0M1253.3 1145.8h0M1292.2 887.6h0M1331.1 689.5h0M1370.0 529.7h0M1408.9 444.0h0M1447.7 377.9h0M1486.6 336.8h0M1525.5 309.8h0M1564.4 289.7h0M1603.3 278.5h0M1642.2 267.4h0M1681.1 264.9h0M1719.9 263.2h0M1758.8 263.2h0M1797.7 263.2h0M1836.6 261.8h0M1875.5 261.3h0M1914.4 261.3h0M1953.3 262.8h0M1992.1 262.0h0M2031.0 260.6h0M2069.9 259.9h0M2108.8 261.4h0M2147.7 259.8h0M2186.6 260.1h0M281.2 1738.7h0M320.0 1736.2h0M358.9 1735.9h0M397.8 1735.9h0M436.7 1735.9h0M475.6 1735.9h0M514.5 1735.9h0M553.4 1735.9h0M592.2 1735.9h0M631.1 1735.9h0M670.0 1735.8h0M708.9 1735.8h0M747.8 1735.7h0M786.7 1735.5h0M825.6 1735.1h0M864.4 1734.4h0M903.3 1733.1h0M942.2 1730.6h0M981.1 1726.0h0M1020.0 1717.2h0M1058.9 1700.7h0M1097.8 1670.1h0M1136.6 1614.0h0M1175.5 1515.1h0M1214.4 1352.6h0M1253.3 1119.2h0M1292.2 851.9h0M1331.1 615.9h0M1370.0 455.7h0M1408.9 359.2h0M1447.7 315.1h0M1486.6 296.1h0M1525.5 286.3h0M1564.4 282.2h0M1603.3 276.0h0M1642.2 274.9h0M1681.1 274.3h0M1719.9 273.2h0M1758.8 273.8h0M1797.7 273.5h0M1836.6 273.0h0M1875.5 273.1h0M1914.4 272.4h0M1953.3 273.8h0M1992.1 272.5h0M2031.0 272.8h0M2069.9 272.0h0M2108.8 271.9h0M2147.7 272.0h0M2186.6 272.4h0M281.2 1739.2h0M320.0 1736.2h0M358.9 1735.9h0M397.8 1735.9h0M436.7 1735.9h0M475.6 1735.9h0M514.5 1735.9h0M553.4 1735.9h0M592.2 1735.9h0M631.1 1735.9h0M670.0 1735.9h0M708.9 1735.8h0M747.8 1735.8h0M786.7 1735.6h0M825.6 1735.3h0M864.4 1734.8h0M903.3 1733.7h0M942.2 1731.5h0M981.1 1727.2h0M1020.0 1718.7h0M1058.9 1702.4h0M1097.8 1671.4h0M1136.6 1614.8h0M1175.5 1517.7h0M1214.4 1368.7h0M1253.3 1175.6h0M1292.2 892.4h0M1331.1 694.3h0M1370.0 554.8h0M1408.9 468.5h0M1447.7 410.8h0M1486.6 369.5h0M1525.5 343.3h0M1564.4 323.5h0M1603.3 309.8h0M1642.2 302.0h0M1681.1 298.3h0M1719.9 297.3h0M1758.8 296.6h0M1797.7 296.2h0M1836.6 296.4h0M1875.5 296.3h0M1914.4 295.2h0M1953.3 295.0h0M1992.1 293.9h0M2031.0 295.1h0M2069.9 294.3h0M2108.8 294.2h0M2147.7 294.2h0M2186.6 293.9h0M281.2 1738.7h0M320.0 1736.2h0M358.9 1735.9h0M397.8 1735.9h0M436.7 1735.9h0M475.6 1735.9h0M514.5 1735.9h0M553.4 1735.9h0M592.2 1735.9h0M631.1 1735.9h0M670.0 1735.8h0M708.9 1735.8h0M747.8 1735.7h0M786.7 1735.5h0M825.6 1735.1h0M864.4 1734.4h0M903.3 1733.1h0M942.2 1730.7h0M981.1 1726.0h0M1020.0 1717.4h0M1058.9 1701.2h0M1097.8 1671.1h0M1136.6 1616.0h0M1175.5 1518.8h0M1214.4 1359.1h0M1253.3 1131.0h0M1292.2 872.3h0M1331.1 647.7h0M1370.0 500.1h0M1408.9 425.6h0M1447.7 389.3h0M1486.6 372.0h0M1525.5 363.1h0M1564.4 359.2h0M1603.3 355.5h0M1642.2 354.4h0M1681.1 353.0h0M1719.9 353.3h0M1758.8 353.0h0M1797.7 352.5h0M1836.6 351.4h0M1875.5 352.2h0M1914.4 351.9h0M1953.3 351.4h0M1992.1 350.1h0M2031.0 351.2h0M2069.9 350.8h0M2108.8 350.0h0M2147.7 349.8h0M2186.6 349.7h0M281.2 1738.7h0M320.0 1736.2h0M358.9 1735.9h0M397.8 1735.9h0M436.7 1735.9h0M475.6 1735.9h0M514.5 1735.9h0M553.4 1735.9h0M592.2 1735.9h0M631.1 1735.9h0M670.0 1735.8h0M708.9 1735.8h0M747.8 1735.7h0M786.7 1735.5h0M825.6 1735.1h0M864.4 1734.4h0M903.3 1733.1h0M942.2 1730.6h0M981.1 1726.1h0M1020.0 1717.7h0M1058.9 1702.0h0M1097.8 1673.0h0M1136.6 1620.1h0M1175.5 1526.0h0M1214.4 1368.9h0M1253.3 1138.8h0M1292.2 883.2h0M1331.1 670.3h0M1370.0 516.3h0M1408.9 438.7h0M1447.7 425.6h0M1486.6 415.8h0M1525.5 410.8h0M1564.4 407.7h0M1603.3 404.6h0M1642.2 404.1h0M1681.1 403.5h0M1719.9 404.0h0M1758.8 402.9h0M1797.7 402.9h0M1836.6 402.4h0M1875.5 403.3h0M1914.4 401.7h0M1953.3 402.1h0M1992.1 402.6h0M2031.0 402.5h0M2069.9 402.3h0M2108.8 401.8h0M2147.7 400.5h0M2186.6 401.0h0M281.2 1737.8h0M320.0 1736.2h0M358.9 1735.9h0M397.8 1735.9h0M436.7 1735.9h0M475.6 1735.9h0M514.5 1735.9h0M553.4 1735.9h0M592.2 1735.9h0M631.1 1735.9h0M670.0 1735.9h0M708.9 1735.8h0M747.8 1735.8h0M786.7 1735.6h0M825.6 1735.4h0M864.4 1734.9h0M903.3 1733.9h0M942.2 1732.0h0M981.1 1728.2h0M1020.0 1720.6h0M1058.9 1705.8h0M1097.8 1677.2h0M1136.6 1624.4h0M1175.5 1532.6h0M1214.4 1389.6h0M1253.3 1201.6h0M1292.2 970.2h0M1331.1 809.5h0M1370.0 696.8h0M1408.9 627.0h0M1447.7 585.7h0M1486.6 556.2h0M1525.5 538.9h0M1564.4 528.5h0M1603.3 519.9h0M1642.2 515.4h0M1681.1 514.3h0M1719.9 513.9h0M1758.8 514.6h0M1797.7 513.7h0M1836.6 513.7h0M1875.5 515.5h0M1914.4 515.3h0M1953.3 514.6h0M1992.1 515.0h0M2031.0 515.0h0M2069.9 515.7h0M2108.8 514.9h0M2147.7 515.1h0M2186.6 515.7h0M281.2 1738.9h0M320.0 1736.2h0M358.9 1735.9h0M397.8 1735.9h0M436.7 1735.9h0M475.6 1735.9h0M514.5 1735.9h0M553.4 1735.9h0M592.2 1735.9h0M631.1 1735.9h0M670.0 1735.9h0M708.9 1735.8h0M747.8 1735.8h0M786.7 1735.6h0M825.6 1735.4h0M864.4 1734.9h0M903.3 1733.9h0M942.2 1732.0h0M981.1 1728.3h0M1020.0 1720.9h0M1058.9 1706.6h0M1097.8 1679.3h0M1136.6 1628.8h0M1175.5 1540.3h0M1214.4 1400.9h0M1253.3 1214.1h0M1292.2 999.3h0M1331.1 833.2h0M1370.0 718.0h0M1408.9 659.7h0M1447.7 619.2h0M1486.6 592.4h0M1525.5 577.9h0M1564.4 569.3h0M1603.3 562.9h0M1642.2 561.2h0M1681.1 560.4h0M1719.9 559.7h0M1758.8 560.2h0M1797.7 560.2h0M1836.6 560.7h0M1875.5 558.9h0M1914.4 559.4h0M1953.3 559.1h0M1992.1 559.6h0M2031.0 558.4h0M2069.9 558.4h0M2108.8 558.9h0M2147.7 559.1h0M2186.6 558.7h0M281.2 1738.3h0M320.0 1736.2h0M358.9 1735.9h0M397.8 1735.9h0M436.7 1735.9h0M475.6 1735.9h0M514.5 1735.9h0M553.4 1735.9h0M592.2 1735.9h0M631.1 1735.9h0M670.0 1735.9h0M708.9 1735.8h0M747.8 1735.8h0M786.7 1735.6h0M825.6 1735.3h0M864.4 1734.8h0M903.3 1733.8h0M942.2 1731.9h0M981.1 1728.1h0M1020.0 1720.9h0M1058.9 1707.2h0M1097.8 1681.0h0M1136.6 1632.5h0M1175.5 1546.7h0M1214.4 1408.4h0M1253.3 1218.6h0M1292.2 1007.6h0M1331.1 838.0h0M1370.0 726.9h0M1408.9 681.2h0M1447.7 638.5h0M1486.6 627.3h0M1525.5 616.4h0M1564.4 610.9h0M1603.3 605.0h0M1642.2 603.5h0M1681.1 603.9h0M1719.9 603.6h0M1758.8 603.0h0M1797.7 603.1h0M1836.6 603.1h0M1875.5 603.6h0M1914.4 603.8h0M1953.3 603.0h0M1992.1 603.4h0M2031.0 602.6h0M2069.9 602.9h0M2108.8 603.3h0M2147.7 602.7h0M2186.6 602.8h0M281.2 1739.2h0M320.0 1736.2h0M358.9 1735.9h0M397.8 1735.9h0M436.7 1735.9h0M475.6 1735.9h0M514.5 1735.9h0M553.4 1735.9h0M592.2 1735.9h0M631.1 1735.9h0M670.0 1735.9h0M708.9 1735.8h0M747.8 1735.8h0M786.7 1735.6h0M825.6 1735.4h0M864.4 1734.9h0M903.3 1733.9h0M942.2 1732.0h0M981.1 1728.3h0M1020.0 1721.2h0M1058.9 1707.5h0M1097.8 1681.4h0M1136.6 1633.1h0M1175.5 1548.1h0M1214.4 1411.9h0M1253.3 1226.4h0M1292.2 1020.2h0M1331.1 857.0h0M1370.0 749.2h0M1408.9 686.5h0M1447.7 649.6h0M1486.6 633.7h0M1525.5 623.7h0M1564.4 620.1h0M1603.3 617.3h0M1642.2 616.7h0M1681.1 616.4h0M1719.9 615.8h0M1758.8 615.3h0M1797.7 615.8h0M1836.6 615.6h0M1875.5 615.4h0M1914.4 615.3h0M1953.3 616.2h0M1992.1 615.4h0M2031.0 615.7h0M2069.9 616.0h0M2108.8 616.0h0M2147.7 615.7h0M2186.6 615.6h0M281.2 1737.5h0M320.0 1736.2h0M358.9 1735.9h0M397.8 1735.9h0M436.7 1735.9h0M475.6 1735.9h0M514.5 1735.9h0M553.4 1735.9h0M592.2 1735.9h0M631.1 1735.9h0M670.0 1735.8h0M708.9 1735.8h0M747.8 1735.7h0M786.7 1735.6h0M825.6 1735.3h0M864.4 1734.8h0M903.3 1733.8h0M942.2 1731.9h0M981.1 1728.2h0M1020.0 1721.2h0M1058.9 1708.0h0M1097.8 1683.0h0M1136.6 1636.8h0M1175.5 1554.7h0M1214.4 1420.7h0M1253.3 1233.6h0M1292.2 1026.3h0M1331.1 862.5h0M1370.0 753.2h0M1408.9 692.9h0M1447.7 670.3h0M1486.6 660.8h0M1525.5 656.1h0M1564.4 651.3h0M1603.3 650.5h0M1642.2 650.3h0M1681.1 649.0h0M1719.9 649.7h0M1758.8 649.0h0M1797.7 650.0h0M1836.6 650.1h0M1875.5 649.2h0M1914.4 649.3h0M1953.3 648.9h0M1992.1 648.6h0M2031.0 648.7h0M2069.9 649.0h0M2108.8 649.2h0M2147.7 649.2h0M2186.6 648.5h0M281.2 1738.8h0M320.0 1736.2h0M358.9 1735.9h0M397.8 1735.9h0M436.7 1735.9h0M475.6 1735.9h0M514.5 1735.9h0M553.4 1735.9h0M592.2 1735.9h0M631.1 1735.9h0M670.0 1735.8h0M708.9 1735.8h0M747.8 1735.7h0M786.7 1735.6h0M825.6 1735.3h0M864.4 1734.8h0M903.3 1733.8h0M942.2 1731.9h0M981.1 1728.3h0M1020.0 1721.4h0M1058.9 1708.4h0M1097.8 1683.9h0M1136.6 1638.7h0M1175.5 1558.1h0M1214.4 1425.6h0M1253.3 1238.7h0M1292.2 1038.6h0M1331.1 870.9h0M1370.0 759.3h0M1408.9 701.8h0M1447.7 682.8h0M1486.6 675.6h0M1525.5 670.8h0M1564.4 666.1h0M1603.3 665.3h0M1642.2 665.2h0M1681.1 664.5h0M1719.9 665.4h0M1758.8 665.3h0M1797.7 664.9h0M1836.6 664.4h0M1875.5 664.3h0M1914.4 664.0h0M1953.3 663.8h0M1992.1 664.0h0M2031.0 663.4h0M2069.9 663.0h0M2108.8 663.1h0M2147.7 662.6h0M2186.6 663.0h0" stroke="#00BA38" stroke-width="8.1" stroke-linecap="round" fill="none"/>
<path d="M281.2 1739.0h0M320.0 1736.2h0M358.9 1735.9h0M397.8 1735.9h0M436.7 1735.9h0M475.6 1735.9h0M514.5 1735.9h0M553.4 1735.9h0M592.2 1735.9h0M631.1 1735.9h0M670.0 1735.9h0M708.9 1735.9h0M747.8 1735.9h0M786.7 1735.9h0M825.6 1735.8h0M864.4 1735.8h0M903.3 1735.7h0M942.2 1735.5h0M981.1 1735.0h0M1020.0 1734.2h0M1058.9 1732.5h0M1097.8 1729.1h0M1136.6 1722.6h0M1175.5 1709.8h0M1214.4 1685.3h0M1253.3 1639.3h0M1292.2 1557.1h0M1331.1 1421.5h0M1370.0 1224.7h0M1408.9 966.9h0M1447.7 713.3h0M1486.6 516.0h0M1525.5 381.8h0M1564.4 301.1h0M1603.3 250.6h0M1642.2 220.5h0M1681.1 203.2h0M1719.9 192.3h0M1758.8 185.3h0M1797.7 180.9h0M1836.6 179.7h0M1875.5 179.2h0M1914.4 178.1h0M1953.3 177.2h0M1992.1 176.7h0M2031.0 177.0h0M2069.9 176.2h0M2108.8 177.0h0M2147.7 176.5h0M2186.6 177.5h0M281.2 1738.7h0M320.0 1736.2h0M358.9 1735.9h0M397.8 1735.9h0M436.7 1735.9h0M475.6 1735.9h0M514.5 1735.9h0M553.4 1735.9h0M592.2 1735.9h0M631.1 1735.9h0M670.0 1735.9h0M708.9 1735.9h0M747.8 1735.9h0M786.7 1735.9h0M825.6 1735.8h0M864.4 1735.8h0M903.3 1735.7h0M942.2 1735.5h0M981.1 1735.1h0M1020.0 1734.3h0M1058.9 1732.7h0M1097.8 1729.5h0M1136.6 1723.1h0M1175.5 1710.6h0M1214.4 1686.2h0M1253.3 1640.5h0M1292.2 1559.4h0M1331.1 1427.8h0M1370.0 1243.1h0M1408.9 982.5h0M1447.7 745.6h0M1486.6 550.6h0M1525.5 434.8h0M1564.4 358.9h0M1603.3 308.4h0M1642.2 274.1h0M1681.1 252.3h0M1719.9 236.1h0M1758.8 227.2h0M1797.7 222.2h0M1836.6 219.7h0M1875.5 218.5h0M1914.4 217.9h0M1953.3 217.4h0M1992.1 217.5h0M2031.0 217.6h0M2069.9 218.7h0M2108.8 220.2h0M2147.7 219.9h0M2186.6 220.5h0M281.2 1738.0h0M320.0 1736.2h0M358.9 1735.9h0M397.8 1735.9h0M436.7 1735.9h0M475.6 1735.9h0M514.5 1735.9h0M553.4 1735.9h0M592.2 1735.9h0M631.1 1735.9h0M670.0 1735.9h0M708.9 1735.9h0M747.8 1735.9h0M786.7 1735.9h0M825.6 1735.8h0M864.4 1735.8h0M903.3 1735.7h0M942.2 1735.5h0M981.1 1735.1h0M1020.0 1734.3h0M1058.9 1732.8h0M1097.8 1729.7h0M1136.6 1723.5h0M1175.5 1711.5h0M1214.4 1688.1h0M1253.3 1644.0h0M1292.2 1565.2h0M1331.1 1435.8h0M1370.0 1251.8h0M1408.9 995.4h0M1447.7 762.1h0M1486.6 564.0h0M1525.5 448.2h0M1564.4 399.6h0M1603.3 355.3h0M1642.2 320.1h0M1681.1 300.3h0M1719.9 283.8h0M1758.8 274.1h0M1797.7 270.2h0M1836.6 267.6h0M1875.5 267.4h0M1914.4 266.5h0M1953.3 266.2h0M1992.1 266.8h0M2031.0 266.3h0M2069.9 267.5h0M2108.8 265.9h0M2147.7 267.1h0M2186.6 267.1h0M281.2 1738.6h0M320.0 1736.2h0M358.9 1735.9h0M397.8 1735.9h0M436.7 1735.9h0M475.6 1735.9h0M514.5 1735.9h0M553.4 1735.9h0M592.2 1735.9h0M631.1 1735.9h0M670.0 1735.9h0M708.9 1735.9h0M747.8 1735.9h0M786.7 1735.9h0M825.6 1735.8h0M864.4 1735.8h0M903.3 1735.7h0M942.2 1735.5h0M981.1 1735.0h0M1020.0 1734.2h0M1058.9 1732.6h0M1097.8 1729.5h0M1136.6 1723.5h0M1175.5 1711.8h0M1214.4 1689.5h0M1253.3 1647.6h0M1292.2 1572.0h0M1331.1 1444.7h0M1370.0 1256.0h0M1408.9 1013.2h0M1447.7 778.0h0M1486.6 596.1h0M1525.5 477.2h0M1564.4 426.7h0M1603.3 396.6h0M1642.2 376.2h0M1681.1 365.9h0M1719.9 354.4h0M1758.8 349.1h0M1797.7 346.6h0M1836.6 344.7h0M1875.5 343.5h0M1914.4 343.0h0M1953.3 342.7h0M1992.1 342.4h0M2031.0 341.6h0M2069.9 341.9h0M2108.8 341.9h0M2147.7 341.5h0M2186.6 341.6h0M281.2 1738.3h0M320.0 1736.2h0M358.9 1735.9h0M397.8 1735.9h0M436.7 1735.9h0M475.6 1735.9h0M514.5 1735.9h0M553.4 1735.9h0M592.2 1735.9h0M631.1 1735.9h0M670.0 1735.9h0M708.9 1735.9h0M747.8 1735.9h0M786.7 1735.8h0M825.6 1735.8h0M864.4 1735.8h0M903.3 1735.6h0M942.2 1735.3h0M981.1 1734.9h0M1020.0 1733.9h0M1058.9 1732.2h0M1097.8 1729.0h0M1136.6 1722.8h0M1175.5 1711.2h0M1214.4 1689.3h0M1253.3 1648.8h0M1292.2 1575.1h0M1331.1 1447.4h0M1370.0 1247.6h0M1408.9 992.3h0M1447.7 750.9h0M1486.6 559.2h0M1525.5 439.0h0M1564.4 404.4h0M1603.3 384.0h0M1642.2 374.2h0M1681.1 370.6h0M1719.9 368.4h0M1758.8 365.9h0M1797.7 364.5h0M1836.6 363.9h0M1875.5 363.4h0M1914.4 362.2h0M1953.3 362.6h0M1992.1 361.9h0M2031.0 362.0h0M2069.9 362.0h0M2108.8 361.6h0M2147.7 361.4h0M2186.6 361.7h0M281.2 1739.1h0M320.0 1736.2h0M358.9 1735.9h0M397.8 1735.9h0M436.7 1735.9h0M475.6 1735.9h0M514.5 1735.9h0M553.4 1735.9h0M592.2 1735.9h0M631.1 1735.9h0M670.0 1735.9h0M708.9 1735.9h0M747.8 1735.9h0M786.7 1735.9h0M825.6 1735.8h0M864.4 1735.8h0M903.3 1735.6h0M942.2 1735.4h0M981.1 1734.9h0M1020.0 1734.1h0M1058.9 1732.4h0M1097.8 1729.3h0M1136.6 1723.5h0M1175.5 1712.6h0M1214.4 1692.2h0M1253.3 1654.4h0M1292.2 1586.2h0M1331.1 1469.0h0M1370.0 1286.7h0M1408.9 1052.3h0M1447.7 815.9h0M1486.6 631.8h0M1525.5 507.9h0M1564.4 435.3h0M1603.3 416.1h0M1642.2 410.2h0M1681.1 406.9h0M1719.9 405.8h0M1758.8 404.9h0M1797.7 403.8h0M1836.6 403.3h0M1875.5 402.0h0M1914.4 400.7h0M1953.3 400.5h0M1992.1 400.4h0M2031.0 400.2h0M2069.9 400.3h0M2108.8 401.0h0M2147.7 400.3h0M2186.6 401.0h0M281.2 1738.7h0M320.0 1736.2h0M358.9 1735.9h0M397.8 1735.9h0M436.7 1735.9h0M475.6 1735.9h0M514.5 1735.9h0M553.4 1735.9h0M592.2 1735.9h0M631.1 1735.9h0M670.0 1735.9h0M708.9 1735.9h0M747.8 1735.9h0M786.7 1735.9h0M825.6 1735.8h0M864.4 1735.8h0M903.3 1735.7h0M942.2 1735.5h0M981.1 1735.1h0M1020.0 1734.4h0M1058.9 1733.0h0M1097.8 1730.2h0M1136.6 1724.9h0M1175.5 1714.5h0M1214.4 1694.5h0M1253.3 1656.9h0M1292.2 1588.2h0M1331.1 1471.0h0M1370.0 1293.9h0M1408.9 1088.6h0M1447.7 874.8h0M1486.6 714.4h0M1525.5 631.8h0M1564.4 593.6h0M1603.3 571.5h0M1642.2 559.8h0M1681.1 552.8h0M1719.9 545.6h0M1758.8 540.5h0M1797.7 537.7h0M1836.6 535.8h0M1875.5 534.4h0M1914.4 536.9h0M1953.3 536.5h0M1992.1 536.2h0M2031.0 535.8h0M2069.9 536.9h0M2108.8 537.0h0M2147.7 536.8h0M2186.6 538.0h0M281.2 1737.4h0M320.0 1736.2h0M358.9 1735.9h0M397.8 1735.9h0M436.7 1735.9h0M475.6 1735.9h0M514.5 1735.9h0M553.4 1735.9h0M592.2 1735.9h0M631.1 1735.9h0M670.0 1735.9h0M708.9 1735.9h0M747.8 1735.9h0M786.7 1735.9h0M825.6 1735.9h0M864.4 1735.8h0M903.3 1735.7h0M942.2 1735.6h0M981.1 1735.3h0M1020.0 1734.6h0M1058.9 1733.3h0M1097.8 1730.8h0M1136.6 1725.6h0M1175.5 1715.4h0M1214.4 1695.6h0M1253.3 1658.0h0M1292.2 1590.1h0M1331.1 1477.8h0M1370.0 1315.7h0M1408.9 1115.6h0M1447.7 929.8h0M1486.6 767.7h0M1525.5 683.4h0M1564.4 629.3h0M1603.3 589.9h0M1642.2 570.7h0M1681.1 556.7h0M1719.9 549.2h0M1758.8 546.7h0M1797.7 546.1h0M1836.6 545.6h0M1875.5 544.4h0M1914.4 546.0h0M1953.3 544.1h0M1992.1 542.7h0M2031.0 543.8h0M2069.9 542.7h0M2108.8 541.5h0M2147.7 542.7h0M2186.6 541.7h0M281.2 1738.1h0M320.0 1736.2h0M358.9 1735.9h0M397.8 1735.9h0M436.7 1735.9h0M475.6 1735.9h0M514.5 1735.9h0M553.4 1735.9h0M592.2 1735.9h0M631.1 1735.9h0M670.0 1735.9h0M708.9 1735.9h0M747.8 1735.9h0M786.7 1735.9h0M825.6 1735.8h0M864.4 1735.8h0M903.3 1735.7h0M942.2 1735.5h0M981.1 1735.1h0M1020.0 1734.3h0M1058.9 1732.9h0M1097.8 1730.2h0M1136.6 1725.0h0M1175.5 1714.9h0M1214.4 1695.9h0M1253.3 1660.2h0M1292.2 1594.9h0M1331.1 1481.9h0M1370.0 1306.2h0M1408.9 1112.3h0M1447.7 902.4h0M1486.6 743.9h0M1525.5 645.2h0M1564.4 603.0h0M1603.3 591.9h0M1642.2 584.9h0M1681.1 580.2h0M1719.9 576.3h0M1758.8 571.5h0M1797.7 567.6h0M1836.6 567.9h0M1875.5 567.2h0M1914.4 566.3h0M1953.3 566.8h0M1992.1 567.1h0M2031.0 566.5h0M2069.9 566.9h0M2108.8 566.2h0M2147.7 568.1h0M2186.6 567.3h0M281.2 1738.9h0M320.0 1736.2h0M358.9 1735.9h0M397.8 1735.9h0M436.7 1735.9h0M475.6 1735.9h0M514.5 1735.9h0M553.4 1735.9h0M592.2 1735.9h0M631.1 1735.9h0M670.0 1735.9h0M708.9 1735.9h0M747.8 1735.9h0M786.7 1735.9h0M825.6 1735.9h0M864.4 1735.8h0M903.3 1735.8h0M942.2 1735.6h0M981.1 1735.3h0M1020.0 1734.7h0M1058.9 1733.5h0M1097.8 1731.0h0M1136.6 1726.1h0M1175.5 1716.2h0M1214.4 1696.9h0M1253.3 1660.1h0M1292.2 1593.6h0M1331.1 1483.5h0M1370.0 1324.9h0M1408.9 1129.3h0M1447.7 946.2h0M1486.6 794.2h0M1525.5 709.3h0M1564.4 653.8h0M1603.3 618.1h0M1642.2 597.2h0M1681.1 584.9h0M1719.9 578.8h0M1758.8 573.7h0M1797.7 572.3h0M1836.6 571.7h0M1875.5 571.5h0M1914.4 570.9h0M1953.3 571.1h0M1992.1 571.9h0M2031.0 571.9h0M2069.9 573.0h0M2108.8 572.7h0M2147.7 572.5h0M2186.6 572.9h0M281.2 1738.5h0M320.0 1736.2h0M358.9 1735.9h0M397.8 1735.9h0M436.7 1735.9h0M475.6 1735.9h0M514.5 1735.9h0M553.4 1735.9h0M592.2 1735.9h0M631.1 1735.9h0M670.0 1735.9h0M708.9 1735.9h0M747.8 1735.9h0M786.7 1735.9h0M825.6 1735.9h0M864.4 1735.8h0M903.3 1735.8h0M942.2 1735.6h0M981.1 1735.3h0M1020.0 1734.8h0M1058.9 1733.6h0M1097.8 1731.2h0M1136.6 1726.4h0M1175.5 1716.7h0M1214.4 1697.6h0M1253.3 1661.1h0M1292.2 1595.2h0M1331.1 1486.8h0M1370.0 1331.3h0M1408.9 1141.6h0M1447.7 965.8h0M1486.6 812.3h0M1525.5 723.0h0M1564.4 662.5h0M1603.3 623.1h0M1642.2 601.1h0M1681.1 587.4h0M1719.9 579.3h0M1758.8 575.1h0M1797.7 573.7h0M1836.6 573.5h0M1875.5 572.9h0M1914.4 574.2h0M1953.3 573.9h0M1992.1 573.8h0M2031.0 573.8h0M2069.9 573.5h0M2108.8 574.2h0M2147.7 574.8h0M2186.6 574.9h0M281.2 1737.9h0M320.0 1736.2h0M358.9 1735.9h0M397.8 1735.9h0M436.7 1735.9h0M475.6 1735.9h0M514.5 1735.9h0M553.4 1735.9h0M592.2 1735.9h0M631.1 1735.9h0M670.0 1735.9h0M708.9 1735.9h0M747.8 1735.9h0M786.7 1735.9h0M825.6 1735.8h0M864.4 1735.8h0M903.3 1735.7h0M942.2 1735.6h0M981.1 1735.3h0M1020.0 1734.7h0M1058.9 1733.5h0M1097.8 1731.2h0M1136.6 1726.7h0M1175.5 1718.0h0M1214.4 1701.2h0M1253.3 1669.9h0M1292.2 1613.4h0M1331.1 1515.5h0M1370.0 1364.8h0M1408.9 1168.4h0M1447.7 973.0h0M1486.6 821.5h0M1525.5 726.6h0M1564.4 674.5h0M1603.3 642.1h0M1642.2 625.1h0M1681.1 613.4h0M1719.9 607.2h0M1758.8 603.3h0M1797.7 601.1h0M1836.6 601.4h0M1875.5 599.8h0M1914.4 599.7h0M1953.3 600.9h0M1992.1 601.5h0M2031.0 601.4h0M2069.9 601.3h0M2108.8 602.0h0M2147.7 600.3h0M2186.6 601.6h0" stroke="#B79F00" stroke-width="8.1" stroke-linecap="round" fill="none"/>
<path d="M281.2 1737.8h0M320.0 1736.2h0M358.9 1735.9h0M397.8 1735.9h0M436.7 1735.9h0M475.6 1735.9h0M514.5 1735.9h0M553.4 1735.9h0M592.2 1735.9h0M631.1 1735.9h0M670.0 1735.9h0M708.9 1735.9h0M747.8 1735.9h0M786.7 1735.9h0M825.6 1735.9h0M864.4 1735.9h0M903.3 1735.9h0M942.2 1735.8h0M981.1 1735.8h0M1020.0 1735.7h0M1058.9 1735.5h0M1097.8 1735.1h0M1136.6 1734.4h0M1175.5 1733.1h0M1214.4 1730.4h0M1253.3 1725.4h0M1292.2 1715.6h0M1331.1 1697.1h0M1370.0 1662.5h0M1408.9 1599.1h0M1447.7 1489.4h0M1486.6 1315.8h0M1525.5 1079.1h0M1564.4 809.8h0M1603.3 577.1h0M1642.2 415.5h0M1681.1 314.5h0M1719.9 256.8h0M1758.8 227.2h0M1797.7 207.9h0M1836.6 199.6h0M1875.5 194.3h0M1914.4 191.5h0M1953.3 189.8h0M1992.1 188.4h0M2031.0 188.9h0M2069.9 188.5h0M2108.8 188.0h0M2147.7 189.2h0M2186.6 188.7h0M281.2 1738.0h0M320.0 1736.2h0M358.9 1735.9h0M397.8 1735.9h0M436.7 1735.9h0M475.6 1735.9h0M514.5 1735.9h0M553.4 1735.9h0M592.2 1735.9h0M631.1 1735.9h0M670.0 1735.9h0M708.9 1735.9h0M747.8 1735.9h0M786.7 1735.9h0M825.6 1735.9h0M864.4 1735.9h0M903.3 1735.9h0M942.2 1735.8h0M981.1 1735.8h0M1020.0 1735.7h0M1058.9 1735.6h0M1097.8 1735.2h0M1136.6 1734.6h0M1175.5 1733.3h0M1214.4 1730.8h0M1253.3 1726.0h0M1292.2 1716.5h0M1331.1 1698.2h0M1370.0 1663.6h0M1408.9 1600.5h0M1447.7 1492.5h0M1486.6 1326.2h0M1525.5 1108.1h0M1564.4 834.9h0M1603.3 593.6h0M1642.2 465.5h0M1681.1 360.0h0M1719.9 291.6h0M1758.8 251.7h0M1797.7 228.3h0M1836.6 215.5h0M1875.5 204.9h0M1914.4 200.1h0M1953.3 197.0h0M1992.1 195.7h0M2031.0 195.5h0M2069.9 195.5h0M2108.8 194.1h0M2147.7 195.3h0M2186.6 194.5h0M281.2 1738.6h0M320.0 1736.2h0M358.9 1735.9h0M397.8 1735.9h0M436.7 1735.9h0M475.6 1735.9h0M514.5 1735.9h0M553.4 1735.9h0M592.2 1735.9h0M631.1 1735.9h0M670.0 1735.9h0M708.9 1735.9h0M747.8 1735.9h0M786.7 1735.9h0M825.6 1735.9h0M864.4 1735.9h0M903.3 1735.9h0M942.2 1735.9h0M981.1 1735.8h0M1020.0 1735.7h0M1058.9 1735.6h0M1097.8 1735.3h0M1136.6 1734.7h0M1175.5 1733.5h0M1214.4 1731.2h0M1253.3 1726.6h0M1292.2 1717.6h0M1331.1 1700.3h0M1370.0 1667.5h0M1408.9 1607.7h0M1447.7 1505.0h0M1486.6 1346.5h0M1525.5 1137.1h0M1564.4 872.3h0M1603.3 635.4h0M1642.2 480.8h0M1681.1 385.1h0M1719.9 317.0h0M1758.8 274.3h0M1797.7 249.2h0M1836.6 231.6h0M1875.5 219.7h0M1914.4 213.2h0M1953.3 209.0h0M1992.1 207.4h0M2031.0 207.7h0M2069.9 208.0h0M2108.8 207.5h0M2147.7 207.7h0M2186.6 207.7h0M281.2 1737.8h0M320.0 1736.2h0M358.9 1735.9h0M397.8 1735.9h0M436.7 1735.9h0M475.6 1735.9h0M514.5 1735.9h0M553.4 1735.9h0M592.2 1735.9h0M631.1 1735.9h0M670.0 1735.9h0M708.9 1735.9h0M747.8 1735.9h0M786.7 1735.9h0M825.6 1735.9h0M864.4 1735.9h0M903.3 1735.9h0M942.2 1735.8h0M981.1 1735.8h0M1020.0 1735.6h0M1058.9 1735.4h0M1097.8 1735.0h0M1136.6 1734.3h0M1175.5 1732.9h0M1214.4 1730.3h0M1253.3 1725.7h0M1292.2 1717.0h0M1331.1 1701.1h0M1370.0 1671.9h0M1408.9 1618.6h0M1447.7 1523.6h0M1486.6 1363.3h0M1525.5 1126.2h0M1564.4 846.1h0M1603.3 630.9h0M1642.2 487.0h0M1681.1 447.1h0M1719.9 432.3h0M1758.8 424.2h0M1797.7 420.0h0M1836.6 416.6h0M1875.5 414.7h0M1914.4 413.0h0M1953.3 412.7h0M1992.1 412.5h0M2031.0 411.9h0M2069.9 410.8h0M2108.8 412.9h0M2147.7 411.8h0M2186.6 411.6h0M281.2 1738.4h0M320.0 1736.2h0M358.9 1735.9h0M397.8 1735.9h0M436.7 1735.9h0M475.6 1735.9h0M514.5 1735.9h0M553.4 1735.9h0M592.2 1735.9h0M631.1 1735.9h0M670.0 1735.9h0M708.9 1735.9h0M747.8 1735.9h0M786.7 1735.9h0M825.6 1735.9h0M864.4 1735.9h0M903.3 1735.8h0M942.2 1735.8h0M981.1 1735.7h0M1020.0 1735.6h0M1058.9 1735.4h0M1097.8 1735.0h0M1136.6 1734.2h0M1175.5 1732.9h0M1214.4 1730.3h0M1253.3 1725.8h0M1292.2 1717.5h0M1331.1 1702.6h0M1370.0 1675.3h0M1408.9 1626.1h0M1447.7 1538.4h0M1486.6 1387.7h0M1525.5 1153.8h0M1564.4 890.4h0M1603.3 647.1h0M1642.2 492.0h0M1681.1 455.7h0M1719.9 445.7h0M1758.8 440.1h0M1797.7 437.0h0M1836.6 434.8h0M1875.5 433.9h0M1914.4 432.3h0M1953.3 432.4h0M1992.1 432.0h0M2031.0 432.6h0M2069.9 431.3h0M2108.8 430.7h0M2147.7 430.6h0M2186.6 431.2h0M281.2 1738.3h0M320.0 1736.2h0M358.9 1735.9h0M397.8 1735.9h0M436.7 1735.9h0M475.6 1735.9h0M514.5 1735.9h0M553.4 1735.9h0M592.2 1735.9h0M631.1 1735.9h0M670.0 1735.9h0M708.9 1735.9h0M747.8 1735.9h0M786.7 1735.9h0M825.6 1735.9h0M864.4 1735.9h0M903.3 1735.8h0M942.2 1735.8h0M981.1 1735.8h0M1020.0 1735.6h0M1058.9 1735.4h0M1097.8 1735.0h0M1136.6 1734.3h0M1175.5 1732.9h0M1214.4 1730.5h0M1253.3 1726.0h0M1292.2 1717.9h0M1331.1 1703.1h0M1370.0 1676.2h0M1408.9 1627.5h0M1447.7 1540.4h0M1486.6 1390.4h0M1525.5 1157.2h0M1564.4 893.2h0M1603.3 660.5h0M1642.2 494.2h0M1681.1 463.5h0M1719.9 453.8h0M1758.8 449.3h0M1797.7 447.1h0M1836.6 444.5h0M1875.5 444.0h0M1914.4 442.0h0M1953.3 442.6h0M1992.1 441.8h0M2031.0 441.1h0M2069.9 442.6h0M2108.8 442.0h0M2147.7 442.0h0M2186.6 441.5h0M281.2 1738.1h0M320.0 1736.2h0M358.9 1735.9h0M397.8 1735.9h0M436.7 1735.9h0M475.6 1735.9h0M514.5 1735.9h0M553.4 1735.9h0M592.2 1735.9h0M631.1 1735.9h0M670.0 1735.9h0M708.9 1735.9h0M747.8 1735.9h0M786.7 1735.9h0M825.6 1735.9h0M864.4 1735.9h0M903.3 1735.9h0M942.2 1735.9h0M981.1 1735.8h0M1020.0 1735.8h0M1058.9 1735.6h0M1097.8 1735.3h0M1136.6 1734.8h0M1175.5 1733.8h0M1214.4 1731.8h0M1253.3 1727.9h0M1292.2 1720.2h0M1331.1 1705.4h0M1370.0 1677.1h0M1408.9 1624.3h0M1447.7 1530.6h0M1486.6 1380.9h0M1525.5 1181.7h0M1564.4 931.7h0M1603.3 769.1h0M1642.2 668.6h0M1681.1 612.0h0M1719.9 588.5h0M1758.8 565.4h0M1797.7 555.0h0M1836.6 549.2h0M1875.5 545.6h0M1914.4 545.0h0M1953.3 544.4h0M1992.1 543.9h0M2031.0 544.4h0M2069.9 544.2h0M2108.8 544.4h0M2147.7 544.4h0M2186.6 543.6h0M281.2 1738.0h0M320.0 1736.2h0M358.9 1735.9h0M397.8 1735.9h0M436.7 1735.9h0M475.6 1735.9h0M514.5 1735.9h0M553.4 1735.9h0M592.2 1735.9h0M631.1 1735.9h0M670.0 1735.9h0M708.9 1735.9h0M747.8 1735.9h0M786.7 1735.9h0M825.6 1735.9h0M864.4 1735.9h0M903.3 1735.9h0M942.2 1735.8h0M981.1 1735.8h0M1020.0 1735.7h0M1058.9 1735.6h0M1097.8 1735.3h0M1136.6 1734.7h0M1175.5 1733.7h0M1214.4 1731.7h0M1253.3 1727.9h0M1292.2 1720.7h0M1331.1 1707.1h0M1370.0 1681.6h0M1408.9 1634.6h0M1447.7 1550.8h0M1486.6 1412.6h0M1525.5 1216.9h0M1564.4 982.5h0M1603.3 800.6h0M1642.2 673.6h0M1681.1 614.2h0M1719.9 590.5h0M1758.8 578.8h0M1797.7 573.7h0M1836.6 571.5h0M1875.5 567.6h0M1914.4 566.5h0M1953.3 566.7h0M1992.1 566.2h0M2031.0 566.3h0M2069.9 566.4h0M2108.8 565.4h0M2147.7 565.7h0M2186.6 566.2h0M281.2 1737.7h0M320.0 1736.2h0M358.9 1735.9h0M397.8 1735.9h0M436.7 1735.9h0M475.6 1735.9h0M514.5 1735.9h0M553.4 1735.9h0M592.2 1735.9h0M631.1 1735.9h0M670.0 1735.9h0M708.9 1735.9h0M747.8 1735.9h0M786.7 1735.9h0M825.6 1735.9h0M864.4 1735.9h0M903.3 1735.9h0M942.2 1735.9h0M981.1 1735.8h0M1020.0 1735.8h0M1058.9 1735.7h0M1097.8 1735.5h0M1136.6 1735.1h0M1175.5 1734.3h0M1214.4 1732.6h0M1253.3 1729.3h0M1292.2 1722.8h0M1331.1 1709.8h0M1370.0 1684.5h0M1408.9 1637.0h0M1447.7 1553.4h0M1486.6 1421.7h0M1525.5 1247.6h0M1564.4 1020.7h0M1603.3 855.8h0M1642.2 743.9h0M1681.1 660.0h0M1719.9 632.9h0M1758.8 605.8h0M1797.7 589.9h0M1836.6 578.8h0M1875.5 572.6h0M1914.4 571.5h0M1953.3 570.7h0M1992.1 570.3h0M2031.0 570.1h0M2069.9 569.2h0M2108.8 569.9h0M2147.7 570.1h0M2186.6 570.7h0M281.2 1737.9h0M320.0 1736.2h0M358.9 1735.9h0M397.8 1735.9h0M436.7 1735.9h0M475.6 1735.9h0M514.5 1735.9h0M553.4 1735.9h0M592.2 1735.9h0M631.1 1735.9h0M670.0 1735.9h0M708.9 1735.9h0M747.8 1735.9h0M786.7 1735.9h0M825.6 1735.9h0M864.4 1735.9h0M903.3 1735.9h0M942.2 1735.9h0M981.1 1735.8h0M1020.0 1735.8h0M1058.9 1735.6h0M1097.8 1735.4h0M1136.6 1735.0h0M1175.5 1734.1h0M1214.4 1732.3h0M1253.3 1728.9h0M1292.2 1722.2h0M1331.1 1709.3h0M1370.0 1684.4h0M1408.9 1638.0h0M1447.7 1555.1h0M1486.6 1420.3h0M1525.5 1233.6h0M1564.4 1017.1h0M1603.3 849.7h0M1642.2 738.9h0M1681.1 639.0h0M1719.9 629.3h0M1758.8 613.4h0M1797.7 605.8h0M1836.6 601.1h0M1875.5 598.6h0M1914.4 597.7h0M1953.3 596.9h0M1992.1 596.3h0M2031.0 596.3h0M2069.9 594.9h0M2108.8 596.8h0M2147.7 597.0h0M2186.6 596.1h0M281.2 1738.2h0M320.0 1736.2h0M358.9 1735.9h0M397.8 1735.9h0M436.7 1735.9h0M475.6 1735.9h0M514.5 1735.9h0M553.4 1735.9h0M592.2 1735.9h0M631.1 1735.9h0M670.0 1735.9h0M708.9 1735.9h0M747.8 1735.9h0M786.7 1735.9h0M825.6 1735.9h0M864.4 1735.9h0M903.3 1735.9h0M942.2 1735.9h0M981.1 1735.8h0M1020.0 1735.8h0M1058.9 1735.6h0M1097.8 1735.3h0M1136.6 1734.8h0M1175.5 1733.8h0M1214.4 1732.0h0M1253.3 1728.3h0M1292.2 1721.4h0M1331.1 1708.2h0M1370.0 1683.2h0M1408.9 1636.7h0M1447.7 1553.2h0M1486.6 1415.1h0M1525.5 1220.3h0M1564.4 996.5h0M1603.3 822.1h0M1642.2 718.6h0M1681.1 634.3h0M1719.9 625.6h0M1758.8 615.9h0M1797.7 614.5h0M1836.6 612.0h0M1875.5 610.9h0M1914.4 609.2h0M1953.3 608.3h0M1992.1 608.3h0M2031.0 608.8h0M2069.9 607.8h0M2108.8 608.6h0M2147.7 607.5h0M2186.6 608.3h0M281.2 1738.2h0M320.0 1736.2h0M358.9 1735.9h0M397.8 1735.9h0M436.7 1735.9h0M475.6 1735.9h0M514.5 1735.9h0M553.4 1735.9h0M592.2 1735.9h0M631.1 1735.9h0M670.0 1735.9h0M708.9 1735.9h0M747.8 1735.9h0M786.7 1735.9h0M825.6 1735.9h0M864.4 1735.9h0M903.3 1735.9h0M942.2 1735.9h0M981.1 1735.8h0M1020.0 1735.8h0M1058.9 1735.6h0M1097.8 1735.4h0M1136.6 1735.0h0M1175.5 1734.1h0M1214.4 1732.5h0M1253.3 1729.4h0M1292.2 1723.3h0M1331.1 1711.8h0M1370.0 1689.7h0M1408.9 1648.3h0M1447.7 1574.6h0M1486.6 1451.1h0M1525.5 1269.9h0M1564.4 1055.3h0M1603.3 860.3h0M1642.2 748.1h0M1681.1 675.6h0M1719.9 646.6h0M1758.8 631.8h0M1797.7 625.6h0M1836.6 620.1h0M1875.5 617.0h0M1914.4 615.9h0M1953.3 614.5h0M1992.1 614.6h0M2031.0 614.5h0M2069.9 615.0h0M2108.8 615.2h0M2147.7 615.1h0M2186.6 615.6h0" stroke="#F8766D" stroke-width="8.1" stroke-linecap="round" fill="none"/>
</g>
<path d="M242.27 1820.9v15.28M631.13 1820.9v15.28M1019.99 1820.9v15.28M1408.85 1820.9v15.28M1797.71 1820.9v15.28M2186.57 1820.9v15.28M185.9 1735.90h-15.28M185.9 1177.84h-15.28M185.9 619.78h-15.28M185.9 61.72h-15.28" stroke="#333" stroke-width="5.93" fill="none"/>
<text transform="translate(242.27 1884.70) scale(0.989 1.075)" font-size="48.9" fill="#4D4D4D" text-anchor="middle">0</text>
<text transform="translate(631.13 1884.70) scale(0.989 1.075)" font-size="48.9" fill="#4D4D4D" text-anchor="middle">10</text>
<text transform="translate(1019.99 1884.70) scale(0.989 1.075)" font-size="48.9" fill="#4D4D4D" text-anchor="middle">20</text>
<text transform="translate(1408.85 1884.70) scale(0.989 1.075)" font-size="48.9" fill="#4D4D4D" text-anchor="middle">30</text>
<text transform="translate(1797.71 1884.70) scale(0.989 1.075)" font-size="48.9" fill="#4D4D4D" text-anchor="middle">40</text>
<text transform="translate(2186.57 1884.70) scale(0.989 1.075)" font-size="48.9" fill="#4D4D4D" text-anchor="middle">50</text>
<text transform="translate(158.90 1754.70) scale(0.989 1.075)" font-size="48.9" fill="#4D4D4D" text-anchor="end">0</text>
<text transform="translate(158.90 1196.64) scale(0.989 1.075)" font-size="48.9" fill="#4D4D4D" text-anchor="end">20</text>
<text transform="translate(158.90 638.58) scale(0.989 1.075)" font-size="48.9" fill="#4D4D4D" text-anchor="end">40</text>
<text transform="translate(158.90 80.52) scale(0.989 1.075)" font-size="48.9" fill="#4D4D4D" text-anchor="end">60</text>
<text transform="translate(1233.88 1955.50) scale(1 1.037)" font-size="61.1" fill="#000" text-anchor="middle">cycle</text>
<text transform="translate(75.75 925.70) rotate(-90) scale(1 1.037)" font-size="61.1" fill="#000" text-anchor="middle">fluor</text>
<text transform="translate(2373.20 644.90) scale(1 1.037)" font-size="61.1" fill="#000" text-anchor="start">Copy number</text>
<rect x="2373.1" y="681.9" width="96" height="576" fill="#EBEBEB"/>
<path d="M2382.7 730.30h76.8" stroke="#F8766D" stroke-width="1.3" fill="none"/>
<circle cx="2421.1" cy="730.30" r="4.05" fill="#F8766D"/>
<text transform="translate(2499.60 748.70) scale(0.989 1.075)" font-size="48.9" fill="#000" text-anchor="start">314</text>
<path d="M2382.7 826.30h76.8" stroke="#B79F00" stroke-width="1.3" fill="none"/>
<circle cx="2421.1" cy="826.30" r="4.05" fill="#B79F00"/>
<text transform="translate(2499.60 844.70) scale(0.989 1.075)" font-size="48.9" fill="#000" text-anchor="start">3140</text>
<path d="M2382.7 922.30h76.8" stroke="#00BA38" stroke-width="1.3" fill="none"/>
<circle cx="2421.1" cy="922.30" r="4.05" fill="#00BA38"/>
<text transform="translate(2499.60 940.70) scale(0.989 1.075)" font-size="48.9" fill="#000" text-anchor="start">31400</text>
<path d="M2382.7 1018.30h76.8" stroke="#00BFC4" stroke-width="1.3" fill="none"/>
<circle cx="2421.1" cy="1018.30" r="4.05" fill="#00BFC4"/>
<text transform="translate(2499.60 1036.70) scale(0.989 1.075)" font-size="48.9" fill="#000" text-anchor="start">314000</text>
<path d="M2382.7 1114.30h76.8" stroke="#619CFF" stroke-width="1.3" fill="none"/>
<circle cx="2421.1" cy="1114.30" r="4.05" fill="#619CFF"/>
<text transform="translate(2499.60 1132.70) scale(0.989 1.075)" font-size="48.9" fill="#000" text-anchor="start">3140000</text>
<path d="M2382.7 1210.30h76.8" stroke="#F564E3" stroke-width="1.3" fill="none"/>
<circle cx="2421.1" cy="1210.30" r="4.05" fill="#F564E3"/>
<text transform="translate(2499.60 1228.70) scale(0.989 1.075)" font-size="48.9" fill="#000" text-anchor="start">31400000</text>
</svg></body></html>
